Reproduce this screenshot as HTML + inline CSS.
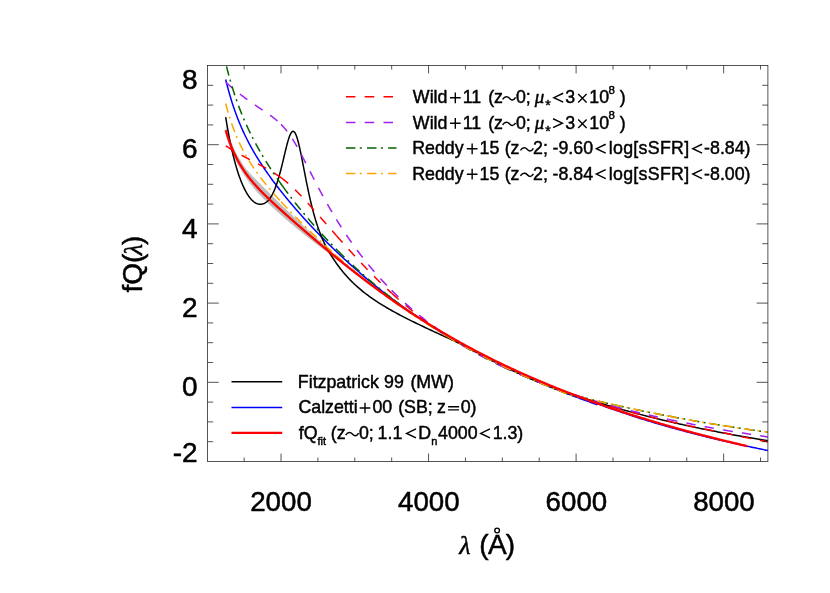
<!DOCTYPE html>
<html><head><meta charset="utf-8"><title>fQ</title>
<style>html,body{margin:0;padding:0;background:#fff;}svg{display:block;will-change:transform;}</style></head>
<body>
<svg width="830" height="593" viewBox="0 0 830 593">
<rect width="830" height="593" fill="#fff"/>
<defs><clipPath id="cp"><rect x="207.25" y="65.5" width="560.65" height="396.0"/></clipPath></defs>
<g clip-path="url(#cp)" fill="none" stroke-linejoin="round">
<path d="M225.69,125.94 L226.43,128.37 L227.17,130.69 L227.91,132.93 L228.64,135.07 L229.38,137.12 L230.12,139.10 L230.86,141.00 L231.59,142.83 L232.33,144.59 L233.07,146.29 L233.81,147.93 L234.54,149.51 L235.28,151.04 L236.02,152.52 L236.76,153.95 L237.50,155.34 L238.23,156.68 L238.97,157.98 L239.71,159.25 L240.45,160.48 L241.18,161.67 L241.92,162.84 L242.66,163.97 L243.40,165.08 L244.13,166.16 L244.87,167.21 L245.61,168.24 L246.35,169.20 L247.09,170.08 L247.82,170.95 L248.56,171.79 L249.30,172.62 L250.04,173.43 L250.77,174.22 L251.51,175.00 L252.25,175.76 L252.99,176.51 L253.72,177.25 L254.46,177.98 L255.20,178.69 L255.94,179.40 L256.68,180.20 L257.41,180.99 L258.15,181.77 L258.89,182.54 L259.63,183.31 L260.36,184.07 L261.10,184.82 L261.84,185.56 L262.58,186.30 L263.31,187.03 L264.05,187.76 L264.79,188.48 L265.53,189.20 L266.27,189.91 L267.00,190.61 L267.74,191.32 L268.48,192.01 L269.22,192.71 L269.95,193.40 L270.69,194.16 L271.43,194.93 L272.17,195.68 L272.91,196.44 L273.64,197.19 L274.38,197.94 L275.12,198.69 L275.86,199.43 L276.59,200.18 L277.33,200.92 L278.07,201.66 L278.81,202.39 L279.54,203.13 L280.28,203.86 L281.02,204.59 L281.76,205.29 L282.50,205.99 L283.23,206.68 L283.97,207.38 L284.71,208.07 L285.45,208.76 L286.18,209.45 L286.92,210.14 L287.66,210.83 L288.40,211.52 L289.13,212.20 L289.87,212.89 L290.61,213.60 L291.35,214.30 L292.09,215.01 L292.82,215.71 L293.56,216.42 L294.30,217.12 L295.04,217.82 L295.77,218.53 L296.51,219.23 L297.25,219.93 L297.99,220.63 L298.72,221.33 L299.46,222.02 L300.20,222.72 L300.94,223.42 L301.68,224.11 L302.41,224.81 L303.15,225.50 L303.89,226.20 L304.63,226.89 L305.36,227.58 L306.10,228.28 L306.84,228.97 L307.58,229.66 L308.31,230.35 L309.05,231.04 L309.79,231.73 L310.53,232.41 L311.27,233.11 L312.00,233.80 L312.74,234.49 L313.48,235.18 L314.22,235.87 L314.95,236.55 L315.69,237.24 L316.43,237.93 L317.17,238.61 L317.90,239.30 L318.64,239.98 L319.38,240.67 L320.12,241.35 L320.86,242.03 L321.59,242.71 L322.33,243.40 L323.07,244.07 L323.81,244.75 L324.54,245.43 L325.28,246.11 L326.02,246.79 L326.76,247.46 L327.49,248.14 L328.23,248.81 L328.97,249.48 L329.71,250.15 L330.45,250.79 L331.18,251.42 L331.92,252.05 L332.66,252.68 L333.40,253.31 L334.13,253.94 L334.87,254.57 L335.61,255.20 L336.35,255.82 L337.08,256.45 L337.82,257.07 L338.56,257.69 L339.30,258.32 L340.04,258.94 L340.77,259.56 L341.51,260.18 L342.25,260.80 L342.99,261.41 L343.72,262.03 L344.46,262.64 L345.20,263.26 L345.94,263.87 L346.67,264.48 L347.41,265.09 L348.15,265.70 L348.89,266.31 L349.63,266.92 L350.36,267.53 L351.10,268.13 L351.84,268.73 L352.58,269.34 L353.31,269.94 L354.05,270.54 L354.79,271.14 L355.53,271.72 L356.26,272.31 L357.00,272.89 L357.74,273.47 L358.48,274.05 L359.22,274.63 L359.95,275.20 L360.69,275.78 L361.43,276.35 L362.17,276.93 L362.90,277.50 L363.64,278.07 L364.38,278.64 L365.12,279.21 L365.85,279.78 L366.59,280.35 L367.33,280.91 L368.07,281.48 L368.81,282.04 L369.54,282.60 L370.28,283.16 L371.02,283.72 L371.76,284.28 L372.49,284.84 L373.23,285.39 L373.97,285.95 L374.71,286.50 L375.44,287.05 L376.18,287.60 L376.92,288.15 L377.66,288.70 L378.40,289.25 L379.13,289.79 L379.87,290.34 L380.61,290.88 L381.35,291.43 L382.08,291.97 L382.82,292.51 L383.56,293.05 L384.30,293.58 L385.04,294.12 L385.77,294.66 L386.51,295.19 L387.25,295.72 L387.99,296.25 L388.72,296.78 L389.46,297.31 L390.20,297.84 L390.94,298.37 L391.67,298.89 L392.41,299.42 L393.15,299.94 L393.89,300.46 L394.63,300.98 L395.36,301.50 L396.10,302.02 L396.84,302.54 L397.58,303.05 L398.31,303.57 L399.05,304.08 L399.79,304.59 L400.53,305.10 L401.26,305.61 L402.00,306.12 L402.74,306.63 L403.48,307.14 L404.22,307.64 L404.95,308.14 L405.69,308.65 L406.43,309.15 L407.17,309.65 L407.90,310.15 L408.64,310.64 L409.38,311.14 L410.12,311.63 L410.85,312.13 L411.59,312.62 L412.33,313.11 L413.07,313.60 L413.81,314.09 L414.54,314.58 L415.28,315.07 L416.02,315.55 L416.76,316.04 L417.49,316.52 L418.23,317.00 L418.97,317.48 L419.71,317.96 L420.44,318.44 L421.18,318.92 L421.92,319.39 L422.66,319.87 L423.40,320.34 L424.13,320.82 L424.87,321.29 L425.61,321.76 L426.35,322.23 L427.08,322.69 L427.82,323.16 L428.56,323.63 L429.30,324.09 L430.03,324.55 L430.77,325.02 L431.51,325.48 L432.25,325.94 L432.99,326.40 L433.72,326.85 L434.46,327.31 L435.20,327.76 L435.94,328.22 L436.67,328.67 L437.41,329.12 L438.15,329.57 L438.89,330.02 L439.62,330.47 L440.36,330.92 L441.10,331.37 L441.84,331.81 L442.58,332.26 L443.31,332.70 L444.05,333.14 L444.79,333.58 L445.53,334.02 L446.26,334.46 L447.00,334.90 L447.74,335.33 L448.48,335.77 L449.21,336.20 L449.95,336.64 L450.69,337.07 L451.43,337.50 L452.17,337.93 L452.90,338.36 L453.64,338.79 L454.38,339.21 L455.12,339.64 L455.85,340.06 L456.59,340.49 L457.33,340.91 L457.33,340.93 L456.59,340.52 L455.85,340.11 L455.12,339.71 L454.38,339.30 L453.64,338.89 L452.90,338.48 L452.17,338.06 L451.43,337.65 L450.69,337.24 L449.95,336.82 L449.21,336.41 L448.48,335.99 L447.74,335.57 L447.00,335.15 L446.26,334.73 L445.53,334.31 L444.79,333.89 L444.05,333.46 L443.31,333.04 L442.58,332.61 L441.84,332.19 L441.10,331.76 L440.36,331.33 L439.62,330.90 L438.89,330.47 L438.15,330.03 L437.41,329.60 L436.67,329.16 L435.94,328.73 L435.20,328.29 L434.46,327.85 L433.72,327.41 L432.99,326.97 L432.25,326.53 L431.51,326.09 L430.77,325.64 L430.03,325.20 L429.30,324.75 L428.56,324.31 L427.82,323.86 L427.08,323.41 L426.35,322.96 L425.61,322.50 L424.87,322.05 L424.13,321.60 L423.40,321.14 L422.66,320.68 L421.92,320.23 L421.18,319.77 L420.44,319.31 L419.71,318.84 L418.97,318.38 L418.23,317.92 L417.49,317.45 L416.76,316.99 L416.02,316.52 L415.28,316.05 L414.54,315.58 L413.81,315.11 L413.07,314.64 L412.33,314.16 L411.59,313.69 L410.85,313.21 L410.12,312.74 L409.38,312.26 L408.64,311.78 L407.90,311.30 L407.17,310.82 L406.43,310.33 L405.69,309.85 L404.95,309.37 L404.22,308.88 L403.48,308.39 L402.74,307.90 L402.00,307.41 L401.26,306.92 L400.53,306.43 L399.79,305.93 L399.05,305.44 L398.31,304.94 L397.58,304.44 L396.84,303.95 L396.10,303.45 L395.36,302.95 L394.63,302.44 L393.89,301.94 L393.15,301.43 L392.41,300.93 L391.67,300.42 L390.94,299.91 L390.20,299.40 L389.46,298.89 L388.72,298.38 L387.99,297.87 L387.25,297.35 L386.51,296.84 L385.77,296.32 L385.04,295.80 L384.30,295.28 L383.56,294.76 L382.82,294.24 L382.08,293.72 L381.35,293.19 L380.61,292.67 L379.87,292.14 L379.13,291.61 L378.40,291.08 L377.66,290.55 L376.92,290.02 L376.18,289.49 L375.44,288.95 L374.71,288.42 L373.97,287.88 L373.23,287.34 L372.49,286.80 L371.76,286.26 L371.02,285.72 L370.28,285.18 L369.54,284.64 L368.81,284.09 L368.07,283.55 L367.33,283.00 L366.59,282.45 L365.85,281.90 L365.12,281.35 L364.38,280.80 L363.64,280.24 L362.90,279.69 L362.17,279.13 L361.43,278.58 L360.69,278.02 L359.95,277.46 L359.22,276.90 L358.48,276.34 L357.74,275.78 L357.00,275.21 L356.26,274.65 L355.53,274.08 L354.79,273.52 L354.05,272.96 L353.31,272.41 L352.58,271.85 L351.84,271.30 L351.10,270.74 L350.36,270.18 L349.63,269.62 L348.89,269.06 L348.15,268.50 L347.41,267.93 L346.67,267.37 L345.94,266.81 L345.20,266.24 L344.46,265.67 L343.72,265.10 L342.99,264.53 L342.25,263.96 L341.51,263.39 L340.77,262.82 L340.04,262.25 L339.30,261.67 L338.56,261.10 L337.82,260.52 L337.08,259.94 L336.35,259.36 L335.61,258.78 L334.87,258.20 L334.13,257.62 L333.40,257.04 L332.66,256.46 L331.92,255.87 L331.18,255.29 L330.45,254.70 L329.71,254.11 L328.97,253.56 L328.23,253.01 L327.49,252.46 L326.76,251.91 L326.02,251.35 L325.28,250.80 L324.54,250.24 L323.81,249.69 L323.07,249.13 L322.33,248.57 L321.59,248.01 L320.86,247.46 L320.12,246.90 L319.38,246.33 L318.64,245.77 L317.90,245.21 L317.17,244.65 L316.43,244.08 L315.69,243.52 L314.95,242.95 L314.22,242.39 L313.48,241.82 L312.74,241.25 L312.00,240.68 L311.27,240.11 L310.53,239.54 L309.79,238.95 L309.05,238.36 L308.31,237.77 L307.58,237.18 L306.84,236.59 L306.10,236.00 L305.36,235.40 L304.63,234.81 L303.89,234.21 L303.15,233.62 L302.41,233.02 L301.68,232.43 L300.94,231.83 L300.20,231.23 L299.46,230.63 L298.72,230.03 L297.99,229.43 L297.25,228.83 L296.51,228.23 L295.77,227.63 L295.04,227.02 L294.30,226.42 L293.56,225.81 L292.82,225.21 L292.09,224.60 L291.35,224.00 L290.61,223.39 L289.87,222.78 L289.13,222.14 L288.40,221.50 L287.66,220.85 L286.92,220.21 L286.18,219.56 L285.45,218.91 L284.71,218.26 L283.97,217.61 L283.23,216.96 L282.50,216.31 L281.76,215.66 L281.02,215.00 L280.28,214.35 L279.54,213.69 L278.81,213.03 L278.07,212.37 L277.33,211.70 L276.59,211.04 L275.86,210.37 L275.12,209.70 L274.38,209.03 L273.64,208.35 L272.91,207.68 L272.17,207.00 L271.43,206.31 L270.69,205.63 L269.95,204.94 L269.22,204.25 L268.48,203.55 L267.74,202.85 L267.00,202.15 L266.27,201.44 L265.53,200.73 L264.79,200.01 L264.05,199.29 L263.31,198.57 L262.58,197.83 L261.84,197.09 L261.10,196.35 L260.36,195.60 L259.63,194.84 L258.89,194.07 L258.15,193.24 L257.41,192.40 L256.68,191.56 L255.94,190.70 L255.20,189.83 L254.46,188.96 L253.72,188.07 L252.99,187.17 L252.25,186.25 L251.51,185.33 L250.77,184.39 L250.04,183.43 L249.30,182.46 L248.56,181.47 L247.82,180.46 L247.09,179.44 L246.35,178.39 L245.61,177.34 L244.87,176.28 L244.13,175.20 L243.40,174.09 L242.66,172.95 L241.92,171.79 L241.18,170.60 L240.45,169.37 L239.71,168.11 L238.97,166.82 L238.23,165.48 L237.50,164.11 L236.76,162.70 L236.02,161.24 L235.28,159.73 L234.54,158.17 L233.81,156.56 L233.07,154.89 L232.33,153.17 L231.59,151.38 L230.86,149.52 L230.12,147.59 L229.38,145.58 L228.64,143.50 L227.91,141.33 L227.17,139.07 L226.43,136.71 L225.69,134.25Z" fill="#bebebe" stroke="none"/>
<path d="M225.69,79.47 L226.06,80.98 L226.43,82.47 L226.80,83.93 L227.17,85.37 L227.54,86.78 L227.91,88.17 L228.27,89.54 L228.64,90.89 L229.01,92.22 L229.38,93.52 L229.75,94.80 L230.12,96.07 L230.49,97.31 L230.86,98.54 L231.23,99.75 L231.59,100.94 L231.96,102.11 L232.33,103.27 L232.70,104.41 L233.07,105.53 L233.44,106.64 L233.81,107.74 L234.18,108.81 L234.54,109.88 L234.91,110.93 L235.28,111.96 L235.65,112.99 L236.02,114.00 L236.39,114.99 L236.76,115.98 L237.13,116.95 L237.50,117.91 L237.86,118.86 L238.23,119.79 L238.60,120.72 L238.97,121.64 L239.34,122.54 L239.71,123.44 L240.08,124.32 L240.45,125.20 L240.82,126.06 L241.18,126.92 L241.55,127.76 L241.92,128.60 L242.29,129.43 L242.66,130.25 L243.03,131.07 L243.40,131.87 L243.77,132.67 L244.13,133.46 L244.50,134.24 L244.87,135.01 L245.24,135.78 L245.61,136.54 L245.98,137.29 L246.35,138.04 L246.72,138.78 L247.09,139.51 L247.45,140.24 L247.82,140.96 L248.19,141.68 L248.56,142.39 L248.93,143.09 L249.30,143.79 L249.67,144.48 L250.04,145.17 L250.41,145.85 L250.77,146.53 L251.14,147.20 L251.51,147.87 L251.88,148.53 L252.25,149.19 L252.62,149.84 L252.99,150.49 L253.36,151.13 L253.72,151.77 L254.09,152.40 L254.46,153.04 L254.83,153.66 L255.20,154.29 L255.57,154.90 L255.94,155.52 L256.31,156.13 L256.68,156.74 L257.04,157.34 L257.41,157.94 L257.78,158.54 L258.15,159.13 L258.52,159.73 L258.89,160.31 L259.26,160.90 L259.63,161.48 L260.00,162.06 L260.36,162.63 L260.73,163.20 L261.10,163.77 L261.47,164.34 L261.84,164.90 L262.21,165.46 L262.58,166.02 L262.95,166.57 L263.31,167.13 L263.68,167.68 L264.05,168.22 L264.42,168.77 L264.79,169.31 L265.16,169.85 L265.53,170.39 L265.90,170.92 L266.27,171.46 L266.63,171.99 L267.00,172.52 L267.37,173.04 L267.74,173.57 L268.11,174.09 L268.48,174.61 L268.85,175.13 L269.22,175.65 L269.59,176.16 L269.95,176.67 L270.32,177.19 L270.69,177.69 L271.06,178.20 L271.43,178.71 L271.80,179.21 L272.17,179.71 L272.54,180.21 L272.91,180.71 L273.27,181.21 L273.64,181.70 L274.01,182.20 L274.38,182.69 L274.75,183.18 L275.12,183.67 L275.49,184.15 L275.86,184.64 L276.22,185.12 L276.59,185.61 L276.96,186.09 L277.33,186.57 L277.70,187.05 L278.07,187.52 L278.44,188.00 L278.81,188.47 L279.18,188.95 L279.54,189.42 L279.91,189.89 L280.28,190.36 L280.65,190.83 L281.02,191.29 L281.39,191.76 L281.76,192.22 L282.13,192.68 L282.50,193.15 L282.86,193.61 L283.23,194.07 L283.60,194.52 L283.97,194.98 L284.34,195.44 L284.71,195.89 L285.08,196.35 L285.45,196.80 L285.81,197.25 L286.18,197.70 L286.55,198.15 L286.92,198.60 L287.29,199.04 L287.66,199.49 L288.03,199.94 L288.40,200.38 L288.77,200.82 L289.13,201.27 L289.50,201.71 L289.87,202.15 L290.24,202.59 L290.61,203.02 L290.98,203.46 L291.35,203.90 L291.72,204.33 L292.09,204.77 L292.45,205.20 L292.82,205.63 L293.19,206.07 L293.56,206.50 L293.93,206.93 L294.30,207.35 L294.67,207.78 L295.04,208.21 L295.40,208.64 L295.77,209.06 L296.14,209.49 L296.51,209.91 L296.88,210.33 L297.25,210.76 L297.62,211.18 L297.99,211.60 L298.36,212.02 L298.72,212.44 L299.09,212.85 L299.46,213.27 L299.83,213.69 L300.20,214.10 L300.57,214.52 L300.94,214.93 L301.31,215.35 L301.68,215.76 L302.04,216.17 L302.41,216.58 L302.78,216.99 L303.15,217.40 L303.52,217.81 L303.89,218.22 L304.26,218.63 L304.63,219.03 L304.99,219.44 L305.36,219.84 L305.73,220.25 L306.10,220.65 L306.47,221.05 L306.84,221.46 L307.21,221.86 L307.58,222.26 L307.95,222.66 L308.31,223.06 L308.68,223.46 L309.05,223.85 L309.42,224.25 L309.79,224.65 L310.16,225.04 L310.53,225.44 L310.90,225.83 L311.27,226.23 L311.63,226.62 L312.00,227.01 L312.37,227.40 L312.74,227.79 L313.11,228.18 L313.48,228.57 L313.85,228.96 L314.22,229.35 L314.58,229.74 L314.95,230.13 L315.32,230.51 L315.69,230.90 L316.06,231.28 L316.43,231.67 L316.80,232.05 L317.17,232.44 L317.54,232.82 L317.90,233.20 L318.27,233.58 L318.64,233.96 L319.01,234.34 L319.38,234.72 L319.75,235.10 L320.12,235.48 L320.49,235.86 L320.86,236.23 L321.22,236.61 L321.59,236.98 L321.96,237.36 L322.33,237.73 L322.70,238.11 L323.07,238.48 L323.44,238.85 L323.81,239.23 L324.18,239.60 L324.54,239.97 L324.91,240.34 L325.28,240.71 L325.65,241.08 L326.02,241.44 L326.39,241.81 L326.76,242.18 L327.13,242.55 L327.49,242.91 L327.86,243.28 L328.23,243.64 L328.60,244.01 L328.97,244.37 L329.34,244.73 L329.71,245.10 L330.08,245.46 L330.45,245.82 L330.81,246.18 L331.18,246.54 L331.55,246.90 L331.92,247.26 L332.29,247.62 L332.66,247.97 L333.03,248.33 L333.40,248.69 L333.77,249.04 L334.13,249.40 L334.50,249.75 L334.87,250.11 L335.24,250.46 L335.61,250.82 L335.98,251.17 L336.35,251.52 L336.72,251.87 L337.08,252.22 L337.45,252.57 L337.82,252.92 L338.19,253.27 L338.56,253.62 L338.93,253.97 L339.30,254.32 L339.67,254.66 L340.04,255.01 L340.40,255.36 L340.77,255.70 L341.14,256.05 L341.51,256.39 L341.88,256.73 L342.25,257.08 L342.62,257.42 L342.99,257.76 L343.36,258.10 L343.72,258.45 L344.09,258.79 L344.46,259.13 L344.83,259.47 L345.20,259.80 L345.57,260.14 L345.94,260.48 L346.31,260.82 L346.67,261.16 L347.04,261.49 L347.41,261.83 L347.78,262.16 L348.15,262.50 L348.52,262.83 L348.89,263.16 L349.26,263.50 L349.63,263.83 L349.99,264.16 L350.36,264.49 L350.73,264.82 L351.10,265.16 L351.47,265.49 L351.84,265.81 L352.21,266.14 L352.58,266.47 L352.95,266.80 L353.31,267.13 L353.68,267.45 L354.05,267.78 L354.42,268.11 L354.79,268.43 L356.26,269.73 L357.74,271.02 L359.22,272.30 L360.69,273.57 L362.17,274.83 L363.64,276.09 L365.12,277.34 L366.59,278.58 L368.07,279.81 L369.54,281.03 L371.02,282.25 L372.49,283.46 L373.97,284.66 L375.44,285.86 L376.92,287.05 L378.40,288.22 L379.87,289.40 L381.35,290.56 L382.82,291.72 L384.30,292.87 L385.77,294.02 L387.25,295.15 L388.72,296.28 L390.20,297.40 L391.67,298.52 L393.15,299.63 L394.63,300.73 L396.10,301.83 L397.58,302.91 L399.05,304.00 L400.53,305.07 L402.00,306.14 L403.48,307.20 L404.95,308.26 L406.43,309.31 L407.90,310.35 L409.38,311.38 L410.85,312.41 L412.33,313.44 L413.81,314.45 L415.28,315.47 L416.76,316.47 L418.23,317.47 L419.71,318.46 L421.18,319.45 L422.66,320.43 L424.13,321.41 L425.61,322.37 L427.08,323.34 L428.56,324.29 L430.03,325.25 L431.51,326.19 L432.99,327.13 L434.46,328.07 L435.94,329.00 L437.41,329.92 L438.89,330.84 L440.36,331.75 L441.84,332.66 L443.31,333.56 L444.79,334.46 L446.26,335.35 L447.74,336.23 L449.21,337.12 L450.69,337.99 L452.17,338.86 L453.64,339.73 L455.12,340.59 L456.59,341.44 L458.07,342.29 L459.54,343.14 L461.02,343.98 L462.49,344.81 L463.97,345.64 L465.44,346.47 L466.92,347.29 L468.39,348.11 L469.87,348.92 L471.35,349.73 L472.82,350.53 L474.30,351.33 L475.77,352.12 L477.25,352.91 L478.72,353.69 L480.20,354.47 L481.67,355.25 L483.15,356.02 L484.62,356.79 L486.10,357.55 L487.57,358.31 L489.05,359.06 L490.53,359.81 L492.00,360.56 L493.48,361.30 L494.95,362.04 L496.43,362.77 L497.90,363.50 L499.38,364.22 L500.85,364.95 L502.33,365.66 L503.80,366.38 L505.28,367.09 L506.76,367.79 L508.23,368.49 L509.71,369.19 L511.18,369.88 L512.66,370.57 L514.13,371.26 L515.61,371.94 L517.08,372.62 L518.56,373.30 L520.03,373.97 L521.51,374.64 L522.98,375.30 L524.46,375.96 L525.94,376.62 L527.41,377.27 L528.89,377.93 L530.36,378.57 L531.84,379.22 L533.31,379.86 L534.79,380.49 L536.26,381.13 L537.74,381.76 L539.21,382.38 L540.69,383.01 L542.16,383.63 L543.64,384.24 L545.12,384.86 L546.59,385.47 L548.07,386.08 L549.54,386.68 L551.02,387.28 L552.49,387.88 L553.97,388.48 L555.44,389.07 L556.92,389.66 L558.39,390.24 L559.87,390.83 L561.34,391.41 L562.82,391.98 L564.30,392.56 L565.77,393.13 L567.25,393.70 L568.72,394.26 L570.20,394.83 L571.67,395.39 L573.15,395.94 L574.62,396.50 L576.10,397.05 L577.57,397.60 L579.05,398.14 L580.52,398.69 L582.00,399.23 L583.48,399.77 L584.95,400.30 L586.43,400.84 L587.90,401.37 L589.38,401.89 L590.85,402.42 L592.33,402.94 L593.80,403.46 L595.28,403.98 L596.75,404.49 L598.23,404.01 L599.70,404.56 L601.18,405.11 L602.66,405.65 L604.13,406.19 L605.61,406.73 L607.08,407.26 L608.56,407.79 L610.03,408.32 L611.51,408.84 L612.98,409.36 L614.46,409.88 L615.93,410.39 L617.41,410.90 L618.89,411.41 L620.36,411.91 L621.84,412.42 L623.31,412.91 L624.79,413.41 L626.26,413.90 L627.74,414.39 L629.21,414.88 L630.69,415.36 L632.16,415.84 L633.64,416.32 L635.11,416.79 L636.59,417.27 L638.07,417.74 L639.54,418.20 L641.02,418.67 L642.49,419.13 L643.97,419.59 L645.44,420.04 L646.92,420.50 L648.39,420.95 L649.87,421.40 L651.34,421.84 L652.82,422.28 L654.29,422.72 L655.77,423.16 L657.25,423.60 L658.72,424.03 L660.20,424.46 L661.67,424.89 L663.15,425.32 L664.62,425.74 L666.10,426.16 L667.57,426.58 L669.05,427.00 L670.52,427.41 L672.00,427.82 L673.47,428.23 L674.95,428.64 L676.43,429.05 L677.90,429.45 L679.38,429.85 L680.85,430.25 L682.33,430.65 L683.80,431.04 L685.28,431.43 L686.75,431.82 L688.23,432.21 L689.70,432.60 L691.18,432.98 L692.65,433.37 L694.13,433.75 L695.61,434.12 L697.08,434.50 L698.56,434.87 L700.03,435.25 L701.51,435.62 L702.98,435.99 L704.46,436.35 L705.93,436.72 L707.41,437.08 L708.88,437.44 L710.36,437.80 L711.84,438.16 L713.31,438.51 L714.79,438.87 L716.26,439.22 L717.74,439.57 L719.21,439.92 L720.69,440.26 L722.16,440.61 L723.64,440.95 L725.11,441.29 L726.59,441.63 L728.06,441.97 L729.54,442.31 L731.02,442.64 L732.49,442.97 L733.97,443.30 L735.44,443.63 L736.92,443.96 L738.39,444.29 L739.87,444.61 L741.34,444.94 L742.82,445.26 L744.29,445.58 L745.77,445.90 L747.24,446.21 L748.72,446.53 L750.20,446.84 L751.67,447.16 L753.15,447.47 L754.62,447.78 L756.10,448.09 L757.57,448.39 L759.05,448.70 L760.52,449.00 L762.00,449.30 L763.47,449.61 L764.95,449.91 L766.42,450.20 L767.90,450.50" stroke="#0000ff" stroke-width="1.5"/>
<path d="M225.69,117.15 L226.06,119.45 L226.43,121.69 L226.80,123.89 L227.17,126.05 L227.54,128.15 L227.91,130.22 L228.27,132.24 L228.64,134.22 L229.01,136.16 L229.38,138.05 L229.75,139.91 L230.12,141.73 L230.49,143.51 L230.86,145.25 L231.23,146.96 L231.59,148.63 L231.96,150.26 L232.33,151.86 L232.70,153.43 L233.07,154.97 L233.44,156.47 L233.81,157.94 L234.18,159.38 L234.54,160.78 L234.91,162.16 L235.28,163.51 L235.65,164.83 L236.02,166.12 L236.39,167.38 L236.76,168.62 L237.13,169.83 L237.50,171.01 L237.86,172.16 L238.23,173.29 L238.60,174.40 L238.97,175.48 L239.34,176.53 L239.71,177.57 L240.08,178.57 L240.45,179.56 L240.82,180.52 L241.18,181.46 L241.55,182.38 L241.92,183.27 L242.29,184.14 L242.66,185.00 L243.03,185.83 L243.40,186.64 L243.77,187.43 L244.13,188.19 L244.50,188.94 L244.87,189.67 L245.24,190.38 L245.61,191.07 L245.98,191.75 L246.35,192.40 L246.72,193.03 L247.09,193.65 L247.45,194.25 L247.82,194.82 L248.19,195.38 L248.56,195.93 L248.93,196.45 L249.30,196.96 L249.67,197.45 L250.04,197.92 L250.41,198.38 L250.77,198.82 L251.14,199.24 L251.51,199.64 L251.88,200.03 L252.25,200.40 L252.62,200.75 L252.99,201.08 L253.36,201.40 L253.72,201.70 L254.09,201.99 L254.46,202.26 L254.83,202.51 L255.20,202.74 L255.57,202.96 L255.94,203.16 L256.31,203.34 L256.68,203.50 L257.04,203.65 L257.41,203.78 L257.78,203.90 L258.15,203.99 L258.52,204.07 L258.89,204.13 L259.26,204.18 L259.63,204.22 L260.00,204.24 L260.36,204.25 L260.73,204.24 L261.10,204.22 L261.47,204.18 L261.84,204.13 L262.21,204.07 L262.58,203.98 L262.95,203.89 L263.31,203.77 L263.68,203.64 L264.05,203.49 L264.42,203.32 L264.79,203.13 L265.16,202.93 L265.53,202.70 L265.90,202.46 L266.27,202.19 L266.63,201.91 L267.00,201.60 L267.37,201.27 L267.74,200.92 L268.11,200.54 L268.48,200.15 L268.85,199.72 L269.22,199.28 L269.59,198.81 L269.95,198.31 L270.32,197.78 L270.69,197.23 L271.06,196.65 L271.43,196.05 L271.80,195.41 L272.17,194.75 L272.54,194.05 L272.91,193.33 L273.27,192.57 L273.64,191.79 L274.01,190.97 L274.38,190.12 L274.75,189.23 L275.12,188.31 L275.49,187.36 L275.86,186.38 L276.22,185.36 L276.59,184.31 L276.96,183.22 L277.33,182.10 L277.70,180.94 L278.07,179.76 L278.44,178.53 L278.81,177.28 L279.18,175.99 L279.54,174.67 L279.91,173.32 L280.28,171.95 L280.65,170.54 L281.02,169.11 L281.39,167.65 L281.76,166.17 L282.13,164.68 L282.50,163.16 L282.86,161.63 L283.23,160.09 L283.60,158.54 L283.97,156.98 L284.34,155.42 L284.71,153.87 L285.08,152.33 L285.45,150.80 L285.81,149.28 L286.18,147.79 L286.55,146.33 L286.92,144.90 L287.29,143.52 L287.66,142.17 L288.03,140.88 L288.40,139.65 L288.77,138.48 L289.13,137.38 L289.50,136.36 L289.87,135.42 L290.24,134.56 L290.61,133.80 L290.98,133.13 L291.35,132.56 L291.72,132.10 L292.09,131.74 L292.45,131.49 L292.82,131.36 L293.19,131.34 L293.56,131.43 L293.93,131.64 L294.30,131.96 L294.67,132.40 L295.04,132.95 L295.40,133.60 L295.77,134.37 L296.14,135.24 L296.51,136.20 L296.88,137.27 L297.25,138.42 L297.62,139.66 L297.99,140.99 L298.36,142.39 L298.72,143.86 L299.09,145.39 L299.46,146.99 L299.83,148.63 L300.20,150.33 L300.57,152.07 L300.94,153.85 L301.31,155.66 L301.68,157.50 L302.04,159.36 L302.41,161.24 L302.78,163.13 L303.15,165.04 L303.52,166.94 L303.89,168.86 L304.26,170.77 L304.63,172.67 L304.99,174.57 L305.36,176.46 L305.73,178.34 L306.10,180.20 L306.47,182.04 L306.84,183.87 L307.21,185.68 L307.58,187.47 L307.95,189.23 L308.31,190.98 L308.68,192.69 L309.05,194.39 L309.42,196.05 L309.79,197.70 L310.16,199.31 L310.53,200.90 L310.90,202.46 L311.27,204.00 L311.63,205.50 L312.00,206.99 L312.37,208.44 L312.74,209.87 L313.11,211.27 L313.48,212.64 L313.85,213.99 L314.22,215.31 L314.58,216.61 L314.95,217.88 L315.32,219.13 L315.69,220.36 L316.06,221.56 L316.43,222.73 L316.80,223.89 L317.17,225.02 L317.54,226.13 L317.90,227.21 L318.27,228.28 L318.64,229.33 L319.01,230.35 L319.38,231.36 L319.75,232.34 L320.12,233.31 L320.49,234.26 L320.86,235.19 L321.22,236.11 L321.59,237.00 L321.96,237.88 L322.33,238.75 L322.70,239.59 L323.07,240.42 L323.44,241.24 L323.81,242.04 L324.18,242.83 L324.54,243.60 L324.91,244.36 L325.28,245.11 L325.65,245.84 L326.02,246.56 L326.39,247.27 L326.76,247.97 L327.13,248.65 L327.49,249.32 L327.86,249.98 L328.23,250.63 L328.60,251.27 L328.97,251.90 L329.34,252.52 L329.71,253.13 L330.08,253.73 L330.45,254.32 L330.81,254.90 L331.18,255.48 L331.55,256.04 L331.92,256.59 L332.29,257.14 L332.66,257.68 L333.03,258.26 L333.40,258.83 L333.77,259.39 L334.13,259.95 L334.50,260.51 L334.87,261.06 L335.24,261.60 L335.61,262.14 L335.98,262.67 L336.35,263.20 L336.72,263.73 L337.08,264.25 L337.45,264.76 L337.82,265.27 L338.19,265.77 L338.56,266.27 L338.93,266.77 L339.30,267.26 L339.67,267.74 L340.04,268.23 L340.40,268.70 L340.77,269.18 L341.14,269.64 L341.51,270.11 L341.88,270.57 L342.25,271.02 L342.62,271.48 L342.99,271.92 L343.36,272.37 L343.72,272.81 L344.09,273.25 L344.46,273.68 L344.83,274.11 L345.20,274.53 L345.57,274.95 L345.94,275.37 L346.31,275.79 L346.67,276.20 L347.04,276.61 L347.41,277.01 L347.78,277.41 L348.15,277.81 L348.52,278.20 L348.89,278.60 L349.26,278.98 L349.63,279.37 L349.99,279.75 L350.36,280.13 L350.73,280.51 L351.10,280.88 L351.47,281.25 L351.84,281.62 L352.21,281.98 L352.58,282.34 L352.95,282.70 L353.31,283.06 L353.68,283.41 L354.05,283.77 L354.42,284.11 L354.79,284.46 L356.26,285.82 L357.74,287.14 L359.22,288.42 L360.69,289.67 L362.17,290.89 L363.64,292.08 L365.12,293.23 L366.59,294.36 L368.07,295.47 L369.54,296.55 L371.02,297.60 L372.49,298.64 L373.97,299.65 L375.44,300.64 L376.92,301.61 L378.40,302.57 L379.87,303.51 L381.35,304.43 L382.82,305.34 L384.30,306.23 L385.77,307.11 L387.25,307.98 L388.72,308.84 L390.20,309.68 L391.67,310.51 L393.15,311.33 L394.63,312.15 L396.10,312.95 L397.58,313.75 L399.05,314.53 L400.53,315.31 L402.00,316.08 L403.48,316.85 L404.95,317.60 L406.43,318.36 L407.90,319.10 L409.38,319.84 L410.85,320.58 L412.33,321.31 L413.81,322.03 L415.28,322.75 L416.76,323.47 L418.23,324.18 L419.71,324.89 L421.18,325.60 L422.66,326.30 L424.13,327.00 L425.61,327.70 L427.08,328.39 L428.56,329.08 L430.03,329.77 L431.51,330.46 L432.99,331.14 L434.46,331.82 L435.94,332.50 L437.41,333.18 L438.89,333.85 L440.36,334.53 L441.84,335.20 L443.31,335.88 L444.79,336.55 L446.26,337.23 L447.74,337.91 L449.21,338.58 L450.69,339.26 L452.17,339.95 L453.64,340.63 L455.12,341.32 L456.59,342.01 L458.07,342.70 L459.54,343.40 L461.02,344.10 L462.49,344.80 L463.97,345.51 L465.44,346.22 L466.92,346.94 L468.39,347.66 L469.87,348.38 L471.35,349.11 L472.82,349.85 L474.30,350.59 L475.77,351.33 L477.25,352.08 L478.72,352.84 L480.20,353.59 L481.67,354.36 L483.15,355.12 L484.62,355.89 L486.10,356.67 L487.57,357.44 L489.05,358.21 L490.53,358.99 L492.00,359.76 L493.48,360.53 L494.95,361.30 L496.43,362.07 L497.90,362.84 L499.38,363.61 L500.85,364.37 L502.33,365.13 L503.80,365.89 L505.28,366.64 L506.76,367.39 L508.23,368.13 L509.71,368.87 L511.18,369.60 L512.66,370.33 L514.13,371.05 L515.61,371.77 L517.08,372.48 L518.56,373.19 L520.03,373.88 L521.51,374.58 L522.98,375.26 L524.46,375.94 L525.94,376.61 L527.41,377.27 L528.89,377.93 L530.36,378.57 L531.84,379.22 L533.31,379.85 L534.79,380.47 L536.26,381.09 L537.74,381.70 L539.21,382.30 L540.69,382.89 L542.16,383.48 L543.64,384.06 L545.12,384.63 L546.59,385.20 L548.07,385.76 L549.54,386.31 L551.02,386.86 L552.49,387.40 L553.97,387.94 L555.44,388.47 L556.92,389.00 L558.39,389.53 L559.87,390.05 L561.34,390.56 L562.82,391.08 L564.30,391.58 L565.77,392.09 L567.25,392.59 L568.72,393.09 L570.20,393.58 L571.67,394.08 L573.15,394.57 L574.62,395.05 L576.10,395.54 L577.57,396.02 L579.05,396.50 L580.52,396.98 L582.00,397.46 L583.48,397.93 L584.95,398.40 L586.43,398.87 L587.90,399.34 L589.38,399.81 L590.85,400.27 L592.33,400.73 L593.80,401.19 L595.28,401.64 L596.75,402.10 L598.23,402.55 L599.70,402.99 L601.18,403.44 L602.66,403.89 L604.13,404.33 L605.61,404.77 L607.08,405.20 L608.56,405.64 L610.03,406.07 L611.51,406.50 L612.98,406.93 L614.46,407.35 L615.93,407.78 L617.41,408.20 L618.89,408.62 L620.36,409.03 L621.84,409.45 L623.31,409.86 L624.79,410.27 L626.26,410.68 L627.74,411.08 L629.21,411.49 L630.69,411.89 L632.16,412.29 L633.64,412.68 L635.11,413.08 L636.59,413.47 L638.07,413.86 L639.54,414.24 L641.02,414.63 L642.49,415.01 L643.97,415.39 L645.44,415.77 L646.92,416.15 L648.39,416.52 L649.87,416.90 L651.34,417.27 L652.82,417.63 L654.29,418.00 L655.77,418.36 L657.25,418.73 L658.72,419.09 L660.20,419.44 L661.67,419.80 L663.15,420.15 L664.62,420.50 L666.10,420.85 L667.57,421.20 L669.05,421.55 L670.52,421.89 L672.00,422.23 L673.47,422.57 L674.95,422.91 L676.43,423.24 L677.90,423.58 L679.38,423.91 L680.85,424.24 L682.33,424.57 L683.80,424.89 L685.28,425.22 L686.75,425.54 L688.23,425.86 L689.70,426.18 L691.18,426.50 L692.65,426.81 L694.13,427.12 L695.61,427.43 L697.08,427.74 L698.56,428.05 L700.03,428.36 L701.51,428.66 L702.98,428.96 L704.46,429.26 L705.93,429.56 L707.41,429.86 L708.88,430.15 L710.36,430.45 L711.84,430.74 L713.31,431.03 L714.79,431.32 L716.26,431.60 L717.74,431.89 L719.21,432.17 L720.69,432.45 L722.16,432.73 L723.64,433.01 L725.11,433.29 L726.59,433.56 L728.06,433.84 L729.54,434.11 L731.02,434.38 L732.49,434.65 L733.97,434.91 L735.44,435.18 L736.92,435.44 L738.39,435.71 L739.87,435.97 L741.34,436.23 L742.82,436.48 L744.29,436.74 L745.77,436.99 L747.24,437.25 L748.72,437.50 L750.20,437.75 L751.67,438.00 L753.15,438.25 L754.62,438.49 L756.10,438.74 L757.57,438.98 L759.05,439.22 L760.52,439.46 L762.00,439.70 L763.47,439.94 L764.95,440.18 L766.42,440.41 L767.90,440.65" stroke="#000" stroke-width="1.5"/>
<path d="M225.69,145.79 L226.06,146.02 L226.43,146.26 L226.80,146.50 L227.17,146.73 L227.54,146.97 L227.91,147.20 L228.27,147.44 L228.64,147.67 L229.01,147.90 L229.38,148.13 L229.75,148.36 L230.12,148.58 L230.49,148.81 L230.86,149.04 L231.23,149.26 L231.59,149.48 L231.96,149.71 L232.33,149.93 L232.70,150.15 L233.07,150.37 L233.44,150.59 L233.81,150.81 L234.18,151.03 L234.54,151.24 L234.91,151.46 L235.28,151.68 L235.65,151.89 L236.02,152.10 L236.39,152.32 L236.76,152.53 L237.13,152.74 L237.50,152.95 L237.86,153.16 L238.23,153.37 L238.60,153.58 L238.97,153.79 L239.34,153.99 L239.71,154.20 L240.08,154.41 L240.45,154.61 L240.82,154.82 L241.18,155.02 L241.55,155.22 L241.92,155.43 L242.29,155.63 L242.66,155.83 L243.03,156.03 L243.40,156.23 L243.77,156.43 L244.13,156.63 L244.50,156.83 L244.87,157.03 L245.24,157.22 L245.61,157.42 L245.98,157.62 L246.35,157.81 L246.72,158.01 L247.09,158.21 L247.45,158.40 L247.82,158.60 L248.19,158.79 L248.56,158.98 L248.93,159.18 L249.30,159.37 L249.67,159.56 L250.04,159.76 L250.41,159.95 L250.77,160.14 L251.14,160.33 L251.51,160.52 L251.88,160.72 L252.25,160.91 L252.62,161.10 L252.99,161.29 L253.36,161.48 L253.72,161.67 L254.09,161.86 L254.46,162.05 L254.83,162.24 L255.20,162.43 L255.57,162.62 L255.94,162.81 L256.31,163.01 L256.68,163.20 L257.04,163.39 L257.41,163.58 L257.78,163.77 L258.15,163.96 L258.52,164.15 L258.89,164.34 L259.26,164.54 L259.63,164.73 L260.00,164.92 L260.36,165.11 L260.73,165.31 L261.10,165.50 L261.47,165.70 L261.84,165.89 L262.21,166.09 L262.58,166.28 L262.95,166.48 L263.31,166.68 L263.68,166.88 L264.05,167.07 L264.42,167.27 L264.79,167.47 L265.16,167.67 L265.53,167.88 L265.90,168.08 L266.27,168.28 L266.63,168.49 L267.00,168.69 L267.37,168.90 L267.74,169.11 L268.11,169.31 L268.48,169.52 L268.85,169.74 L269.22,169.95 L269.59,170.16 L269.95,170.38 L270.32,170.59 L270.69,170.81 L271.06,171.03 L271.43,171.25 L271.80,171.47 L272.17,171.69 L272.54,171.92 L272.91,172.15 L273.27,172.38 L273.64,172.61 L274.01,172.84 L274.38,173.07 L274.75,173.31 L275.12,173.54 L275.49,173.78 L275.86,174.02 L276.22,174.27 L276.59,174.51 L276.96,174.76 L277.33,175.01 L277.70,175.26 L278.07,175.51 L278.44,175.77 L278.81,176.03 L279.18,176.29 L279.54,176.55 L279.91,176.81 L280.28,177.08 L280.65,177.35 L281.02,177.62" stroke="#ff0000" stroke-width="1.5" stroke-dasharray="9.3 9.2"/>
<path d="M281.02,177.62 L281.39,177.89 L281.76,178.17 L282.13,178.45 L282.50,178.73 L282.86,179.01 L283.23,179.30 L283.60,179.59 L283.97,179.88 L284.34,180.17 L284.71,180.46 L285.08,180.76 L285.45,181.06 L285.81,181.37 L286.18,181.67 L286.55,181.98 L286.92,182.29 L287.29,182.60 L287.66,182.92 L288.03,183.23 L288.40,183.55 L288.77,183.88 L289.13,184.20 L289.50,184.53 L289.87,184.86 L290.24,185.19 L290.61,185.52 L290.98,185.86 L291.35,186.20 L291.72,186.54 L292.09,186.88 L292.45,187.23 L292.82,187.58 L293.19,187.93 L293.56,188.28 L293.93,188.63 L294.30,188.99 L294.67,189.35 L295.04,189.71 L295.40,190.07 L295.77,190.43 L296.14,190.80 L296.51,191.16 L296.88,191.53 L297.25,191.91 L297.62,192.28 L297.99,192.65 L298.36,193.03 L298.72,193.41 L299.09,193.79 L299.46,194.17 L299.83,194.55 L300.20,194.93 L300.57,195.32 L300.94,195.71 L301.31,196.09 L301.68,196.48 L302.04,196.88 L302.41,197.27 L302.78,197.66 L303.15,198.06 L303.52,198.45 L303.89,198.85 L304.26,199.25 L304.63,199.65 L304.99,200.05 L305.36,200.45 L305.73,200.85 L306.10,201.25 L306.47,201.66 L306.84,202.06 L307.21,202.47 L307.58,202.87 L307.95,203.28 L308.31,203.69 L308.68,204.09 L309.05,204.50 L309.42,204.91 L309.79,205.32 L310.16,205.74 L310.53,206.15 L310.90,206.56 L311.27,206.97 L311.63,207.39 L312.00,207.80 L312.37,208.21 L312.74,208.63 L313.11,209.04 L313.48,209.46 L313.85,209.88 L314.22,210.29 L314.58,210.71 L314.95,211.13 L315.32,211.54 L315.69,211.96 L316.06,212.38 L316.43,212.80 L316.80,213.21 L317.17,213.63 L317.54,214.05 L317.90,214.47 L318.27,214.89 L318.64,215.31 L319.01,215.73 L319.38,216.15 L319.75,216.57 L320.12,216.99 L320.49,217.41 L320.86,217.83 L321.22,218.25 L321.59,218.67 L321.96,219.09 L322.33,219.51 L322.70,219.93 L323.07,220.35 L323.44,220.78 L323.81,221.20 L324.18,221.62 L324.54,222.04 L324.91,222.46 L325.28,222.88 L325.65,223.30 L326.02,223.72 L326.39,224.14 L326.76,224.56 L327.13,224.99 L327.49,225.41 L327.86,225.83 L328.23,226.25 L328.60,226.67 L328.97,227.09 L329.34,227.51 L329.71,227.93 L330.08,228.35 L330.45,228.77 L330.81,229.19 L331.18,229.61 L331.55,230.03 L331.92,230.45 L332.29,230.87 L332.66,231.29 L333.03,231.71 L333.40,232.13 L333.77,232.55 L334.13,232.97 L334.50,233.39 L334.87,233.81 L335.24,234.23 L335.61,234.65 L335.98,235.07 L336.35,235.48" stroke="#ff0000" stroke-width="1.5" stroke-dasharray="9.3 9.2"/>
<path d="M336.35,235.48 L336.72,235.90 L337.08,236.32 L337.45,236.74 L337.82,237.16 L338.19,237.57 L338.56,237.99 L338.93,238.41 L339.30,238.83 L339.67,239.24 L340.04,239.66 L340.40,240.08 L340.77,240.49 L341.14,240.91 L341.51,241.32 L341.88,241.74 L342.25,242.15 L342.62,242.57 L342.99,242.98 L343.36,243.40 L343.72,243.81 L344.09,244.22 L344.46,244.64 L344.83,245.05 L345.20,245.46 L345.57,245.88 L345.94,246.29 L346.31,246.70 L346.67,247.11 L347.04,247.52 L347.41,247.93 L347.78,248.34 L348.15,248.75 L348.52,249.16 L348.89,249.57 L349.26,249.98 L349.63,250.39 L349.99,250.80 L350.36,251.21 L350.73,251.61 L351.10,252.02 L351.47,252.43 L351.84,252.83 L352.21,253.24 L352.58,253.64 L352.95,254.05 L353.31,254.45 L353.68,254.86 L354.05,255.26 L354.42,255.66 L354.79,256.07 L355.16,256.47 L355.53,256.87 L355.90,257.27 L356.26,257.67 L356.63,258.07 L357.00,258.47 L357.37,258.87 L357.74,259.27 L358.11,259.67 L358.48,260.07 L358.85,260.46 L359.22,260.86 L359.58,261.25 L359.95,261.65 L360.32,262.04 L360.69,262.44 L361.06,262.83 L361.43,263.23 L361.80,263.62 L362.17,264.01 L362.54,264.40 L362.90,264.79 L363.27,265.18 L363.64,265.57 L364.01,265.96 L364.38,266.35 L364.75,266.74 L365.12,267.13 L365.49,267.51 L365.85,267.90 L366.22,268.28 L366.59,268.67 L366.96,269.05 L367.33,269.44 L367.70,269.82 L368.07,270.20 L368.44,270.58 L368.81,270.96 L369.17,271.34 L369.54,271.72 L369.91,272.10 L370.28,272.48 L370.65,272.86 L371.02,273.23 L371.39,273.61 L371.76,273.99 L372.13,274.36 L372.49,274.73 L372.86,275.11 L373.23,275.48 L373.60,275.85 L373.97,276.22 L374.34,276.59 L374.71,276.96 L375.08,277.33 L375.44,277.70 L375.81,278.07 L376.18,278.44 L376.55,278.80 L376.92,279.17 L377.29,279.53 L377.66,279.90 L378.03,280.26 L378.40,280.62 L378.76,280.99 L379.13,281.35 L379.50,281.71 L379.87,282.07 L380.24,282.43 L380.61,282.79 L380.98,283.14 L381.35,283.50 L381.72,283.86 L382.08,284.21 L382.45,284.57 L382.82,284.92 L383.19,285.27 L383.56,285.63 L383.93,285.98 L384.30,286.33 L384.67,286.68 L385.04,287.03 L385.40,287.38 L385.77,287.73 L386.14,288.07 L386.51,288.42 L386.88,288.77 L387.25,289.11 L387.62,289.45 L387.99,289.80 L388.35,290.14 L388.72,290.48 L389.09,290.82 L389.46,291.16 L389.83,291.50 L390.20,291.84 L390.57,292.18 L390.94,292.52 L391.31,292.86 L391.67,293.19" stroke="#ff0000" stroke-width="1.5" stroke-dasharray="9.3 9.2"/>
<path d="M391.67,293.19 L393.15,294.53 L394.63,295.85 L396.10,297.17 L397.58,298.47 L399.05,299.76 L400.53,301.03 L402.00,302.30 L403.48,303.55 L404.95,304.80 L406.43,306.03 L407.90,307.25 L409.38,308.46 L410.85,309.65 L412.33,310.84 L413.81,312.01 L415.28,313.18 L416.76,314.33 L418.23,315.48 L419.71,316.61 L421.18,317.73 L422.66,318.84 L424.13,319.94 L425.61,321.03 L427.08,322.12 L428.56,323.19 L430.03,324.25 L431.51,325.30 L432.99,326.34 L434.46,327.37 L435.94,328.40 L437.41,329.41 L438.89,330.42 L440.36,331.41 L441.84,332.40 L443.31,333.38 L444.79,334.35 L446.26,335.31 L447.00,335.79" stroke="#ff0000" stroke-width="1.5" stroke-dasharray="9.3 9.2"/>
<path d="M447.00,335.79 L448.48,336.73 L449.95,337.67 L451.43,338.61 L452.90,339.53 L454.38,340.45 L455.85,341.35 L457.33,342.25 L458.80,343.15 L460.28,344.03 L461.76,344.91 L463.23,345.78 L464.71,346.64 L466.18,347.49 L467.66,348.34 L469.13,349.18 L470.61,350.01 L472.08,350.84 L473.56,351.66 L475.03,352.47 L476.51,353.28 L477.98,354.08 L479.46,354.87 L480.94,355.66 L482.41,356.44 L483.89,357.21 L485.36,357.98 L486.84,358.74 L488.31,359.49 L489.79,360.24 L491.26,360.99 L492.74,361.72 L494.21,362.46 L495.69,363.18 L497.17,363.90 L498.64,364.62 L500.12,365.33 L501.59,366.03 L502.33,366.38" stroke="#ff0000" stroke-width="1.5" stroke-dasharray="9.3 9.2"/>
<path d="M502.33,366.38 L503.80,367.07 L505.28,367.76 L506.76,368.45 L508.23,369.13 L509.71,369.80 L511.18,370.47 L512.66,371.14 L514.13,371.80 L515.61,372.45 L517.08,373.10 L518.56,373.75 L520.03,374.39 L521.51,375.02 L522.98,375.65 L524.46,376.28 L525.94,376.90 L527.41,377.52 L528.89,378.13 L530.36,378.74 L531.84,379.34 L533.31,379.94 L534.79,380.54 L536.26,381.13 L537.74,381.72 L539.21,382.30 L540.69,382.88 L542.16,383.45 L543.64,384.02 L545.12,384.59 L546.59,385.15 L548.07,385.71 L549.54,386.27 L551.02,386.82 L552.49,387.37 L553.97,387.91 L555.44,388.45 L556.92,388.99 L557.66,389.26" stroke="#ff0000" stroke-width="1.5" stroke-dasharray="9.3 9.2"/>
<path d="M557.66,389.26 L559.13,389.79 L560.61,390.31 L562.08,390.84 L563.56,391.36 L565.03,391.88 L566.51,392.39 L567.98,392.90 L569.46,393.41 L570.93,393.91 L572.41,394.41 L573.89,394.91 L575.36,395.40 L576.84,395.90 L578.31,396.38 L579.79,396.87 L581.26,397.35 L582.74,397.83 L584.21,398.30 L585.69,398.78 L587.16,399.25 L588.64,399.71 L590.11,400.18 L591.59,400.64 L593.07,401.09 L594.54,401.55 L596.02,402.00 L597.49,402.45 L598.97,402.90 L600.44,403.34 L601.92,403.78 L603.39,404.22 L604.87,404.66 L606.34,405.09 L607.82,405.52 L609.30,405.95 L610.77,406.38 L612.25,406.80 L612.98,407.01" stroke="#ff0000" stroke-width="1.5" stroke-dasharray="9.3 9.2"/>
<path d="M612.98,407.01 L614.46,407.43 L615.93,407.84 L617.41,408.26 L618.89,408.67 L620.36,409.08 L621.84,409.49 L623.31,409.89 L624.79,410.29 L626.26,410.69 L627.74,411.09 L629.21,411.49 L630.69,411.88 L632.16,412.27 L633.64,412.66 L635.11,413.05 L636.59,413.43 L638.07,413.81 L639.54,414.19 L641.02,414.57 L642.49,414.95 L643.97,415.32 L645.44,415.69 L646.92,416.06 L648.39,416.43 L649.87,416.79 L651.34,417.16 L652.82,417.52 L654.29,417.88 L655.77,418.24 L657.25,418.59 L658.72,418.94 L660.20,419.30 L661.67,419.65 L663.15,419.99 L664.62,420.34 L666.10,420.68 L667.57,421.03 L668.31,421.20" stroke="#ff0000" stroke-width="1.5" stroke-dasharray="9.3 9.2"/>
<path d="M668.31,421.20 L669.79,421.54 L671.26,421.87 L672.74,422.21 L674.21,422.54 L675.69,422.88 L677.16,423.21 L678.64,423.53 L680.11,423.86 L681.59,424.19 L683.06,424.51 L684.54,424.83 L686.02,425.15 L687.49,425.47 L688.97,425.79 L690.44,426.11 L691.92,426.42 L693.39,426.73 L694.87,427.04 L696.34,427.35 L697.82,427.66 L699.29,427.96 L700.77,428.27 L702.24,428.57 L703.72,428.87 L705.20,429.17 L706.67,429.47 L708.15,429.77 L709.62,430.06 L711.10,430.36 L712.57,430.65 L714.05,430.94 L715.52,431.23 L717.00,431.52 L718.47,431.81 L719.95,432.09 L721.43,432.38 L722.90,432.66 L723.64,432.80" stroke="#ff0000" stroke-width="1.5" stroke-dasharray="9.3 9.2"/>
<path d="M723.64,432.80 L725.11,433.13 L726.59,433.45 L728.06,433.77 L729.54,434.09 L731.02,434.41 L732.49,434.73 L733.97,435.05 L735.44,435.36 L736.92,435.68 L738.39,435.99 L739.87,436.30 L741.34,436.61 L742.82,436.91 L744.29,437.22 L745.77,437.52 L747.24,437.82 L748.72,438.12 L750.20,438.42 L751.67,438.72 L753.15,439.02 L754.62,439.31 L756.10,439.61 L757.57,439.90 L759.05,440.19 L760.52,440.48 L762.00,440.76 L763.47,441.05 L764.95,441.33 L766.42,441.62 L767.90,441.90" stroke="#ff0000" stroke-width="1.5" stroke-dasharray="9.3 9.2"/>
<path d="M225.69,82.17 L226.06,82.50 L226.43,82.83 L226.80,83.17 L227.17,83.50 L227.54,83.83 L227.91,84.15 L228.27,84.48 L228.64,84.81 L229.01,85.13 L229.38,85.45 L229.75,85.77 L230.12,86.09 L230.49,86.41 L230.86,86.72 L231.23,87.04 L231.59,87.35 L231.96,87.66 L232.33,87.97 L232.70,88.28 L233.07,88.59 L233.44,88.90 L233.81,89.20 L234.18,89.50 L234.54,89.81 L234.91,90.11 L235.28,90.41 L235.65,90.71 L236.02,91.00 L236.39,91.30 L236.76,91.60 L237.13,91.89 L237.50,92.18 L237.86,92.47 L238.23,92.76 L238.60,93.05 L238.97,93.34 L239.34,93.63 L239.71,93.91 L240.08,94.20 L240.45,94.48 L240.82,94.76 L241.18,95.04 L241.55,95.32 L241.92,95.60 L242.29,95.88 L242.66,96.16 L243.03,96.43 L243.40,96.71 L243.77,96.98 L244.13,97.25 L244.50,97.53 L244.87,97.80 L245.24,98.07 L245.61,98.34 L245.98,98.61 L246.35,98.87 L246.72,99.14 L247.09,99.40 L247.45,99.67 L247.82,99.93 L248.19,100.20 L248.56,100.46 L248.93,100.72 L249.30,100.98 L249.67,101.24 L250.04,101.50 L250.41,101.76 L250.77,102.01 L251.14,102.27 L251.51,102.53 L251.88,102.78 L252.25,103.04 L252.62,103.29 L252.99,103.54 L253.36,103.80 L253.72,104.05 L254.09,104.30 L254.46,104.55 L254.83,104.80 L255.20,105.05 L255.57,105.30 L255.94,105.55 L256.31,105.80 L256.68,106.05 L257.04,106.30 L257.41,106.55 L257.78,106.80 L258.15,107.04 L258.52,107.29 L258.89,107.54 L259.26,107.78 L259.63,108.03 L260.00,108.28 L260.36,108.52 L260.73,108.77 L261.10,109.02 L261.47,109.27 L261.84,109.51 L262.21,109.76 L262.58,110.01 L262.95,110.25 L263.31,110.50 L263.68,110.75 L264.05,111.00 L264.42,111.25 L264.79,111.50 L265.16,111.75 L265.53,112.00 L265.90,112.25 L266.27,112.50 L266.63,112.76 L267.00,113.01 L267.37,113.27 L267.74,113.52 L268.11,113.78 L268.48,114.04 L268.85,114.30 L269.22,114.56 L269.59,114.83 L269.95,115.09 L270.32,115.36 L270.69,115.63 L271.06,115.90 L271.43,116.17 L271.80,116.44 L272.17,116.72 L272.54,117.00 L272.91,117.28 L273.27,117.57 L273.64,117.85 L274.01,118.14 L274.38,118.44 L274.75,118.73 L275.12,119.03 L275.49,119.33 L275.86,119.64 L276.22,119.95 L276.59,120.26 L276.96,120.58 L277.33,120.90 L277.70,121.22 L278.07,121.55 L278.44,121.89 L278.81,122.23 L279.18,122.57 L279.54,122.92 L279.91,123.27 L280.28,123.63 L280.65,123.99 L281.02,124.36" stroke="#a020f0" stroke-width="1.5" stroke-dasharray="9.3 9.2"/>
<path d="M281.02,124.36 L281.39,124.74 L281.76,125.12 L282.13,125.50 L282.50,125.89 L282.86,126.29 L283.23,126.70 L283.60,127.11 L283.97,127.52 L284.34,127.95 L284.71,128.38 L285.08,128.81 L285.45,129.26 L285.81,129.71 L286.18,130.16 L286.55,130.63 L286.92,131.10 L287.29,131.58 L287.66,132.06 L288.03,132.56 L288.40,133.05 L288.77,133.56 L289.13,134.08 L289.50,134.60 L289.87,135.12 L290.24,135.66 L290.61,136.20 L290.98,136.75 L291.35,137.31 L291.72,137.87 L292.09,138.44 L292.45,139.02 L292.82,139.60 L293.19,140.19 L293.56,140.78 L293.93,141.39 L294.30,141.99 L294.67,142.61 L295.04,143.23 L295.40,143.85 L295.77,144.48 L296.14,145.12 L296.51,145.76 L296.88,146.41 L297.25,147.06 L297.62,147.72 L297.99,148.38 L298.36,149.05 L298.72,149.72 L299.09,150.39 L299.46,151.07 L299.83,151.75 L300.20,152.44 L300.57,153.13 L300.94,153.82 L301.31,154.51 L301.68,155.21 L302.04,155.91 L302.41,156.62 L302.78,157.32 L303.15,158.03 L303.52,158.74 L303.89,159.45 L304.26,160.16 L304.63,160.88 L304.99,161.60 L305.36,162.31 L305.73,163.03 L306.10,163.75 L306.47,164.47 L306.84,165.20 L307.21,165.92 L307.58,166.64 L307.95,167.36 L308.31,168.09 L308.68,168.81 L309.05,169.53 L309.42,170.26 L309.79,170.98 L310.16,171.70 L310.53,172.43 L310.90,173.15 L311.27,173.87 L311.63,174.59 L312.00,175.31 L312.37,176.03 L312.74,176.75 L313.11,177.47 L313.48,178.19 L313.85,178.91 L314.22,179.62 L314.58,180.33 L314.95,181.05 L315.32,181.76 L315.69,182.47 L316.06,183.18 L316.43,183.89 L316.80,184.59 L317.17,185.30 L317.54,186.00 L317.90,186.70 L318.27,187.40 L318.64,188.10 L319.01,188.79 L319.38,189.49 L319.75,190.18 L320.12,190.87 L320.49,191.56 L320.86,192.25 L321.22,192.94 L321.59,193.62 L321.96,194.30 L322.33,194.98 L322.70,195.66 L323.07,196.34 L323.44,197.01 L323.81,197.68 L324.18,198.36 L324.54,199.02 L324.91,199.69 L325.28,200.36 L325.65,201.02 L326.02,201.68 L326.39,202.34 L326.76,202.99 L327.13,203.65 L327.49,204.30 L327.86,204.95 L328.23,205.60 L328.60,206.24 L328.97,206.89 L329.34,207.53 L329.71,208.17 L330.08,208.81 L330.45,209.44 L330.81,210.08 L331.18,210.71 L331.55,211.34 L331.92,211.97 L332.29,212.59 L332.66,213.22 L333.03,213.84 L333.40,214.46 L333.77,215.07 L334.13,215.69 L334.50,216.30 L334.87,216.91 L335.24,217.52 L335.61,218.13 L335.98,218.73 L336.35,219.34" stroke="#a020f0" stroke-width="1.5" stroke-dasharray="9.3 9.2"/>
<path d="M336.35,219.34 L336.72,219.94 L337.08,220.54 L337.45,221.13 L337.82,221.73 L338.19,222.32 L338.56,222.91 L338.93,223.50 L339.30,224.09 L339.67,224.67 L340.04,225.25 L340.40,225.83 L340.77,226.41 L341.14,226.99 L341.51,227.56 L341.88,228.14 L342.25,228.71 L342.62,229.28 L342.99,229.84 L343.36,230.41 L343.72,230.97 L344.09,231.53 L344.46,232.09 L344.83,232.65 L345.20,233.21 L345.57,233.76 L345.94,234.31 L346.31,234.86 L346.67,235.41 L347.04,235.96 L347.41,236.50 L347.78,237.04 L348.15,237.58 L348.52,238.12 L348.89,238.66 L349.26,239.19 L349.63,239.73 L349.99,240.26 L350.36,240.79 L350.73,241.32 L351.10,241.84 L351.47,242.37 L351.84,242.89 L352.21,243.41 L352.58,243.93 L352.95,244.45 L353.31,244.96 L353.68,245.48 L354.05,245.99 L354.42,246.50 L354.79,247.01 L355.16,247.51 L355.53,248.02 L355.90,248.52 L356.26,249.02 L356.63,249.52 L357.00,250.02 L357.37,250.52 L357.74,251.02 L358.11,251.51 L358.48,252.00 L358.85,252.49 L359.22,252.98 L359.58,253.47 L359.95,253.95 L360.32,254.44 L360.69,254.92 L361.06,255.40 L361.43,255.88 L361.80,256.36 L362.17,256.83 L362.54,257.31 L362.90,257.78 L363.27,258.25 L363.64,258.72 L364.01,259.19 L364.38,259.66 L364.75,260.12 L365.12,260.58 L365.49,261.05 L365.85,261.51 L366.22,261.97 L366.59,262.42 L366.96,262.88 L367.33,263.34 L367.70,263.79 L368.07,264.24 L368.44,264.69 L368.81,265.14 L369.17,265.59 L369.54,266.03 L369.91,266.48 L370.28,266.92 L370.65,267.36 L371.02,267.80 L371.39,268.24 L371.76,268.68 L372.13,269.11 L372.49,269.55 L372.86,269.98 L373.23,270.41 L373.60,270.85 L373.97,271.27 L374.34,271.70 L374.71,272.13 L375.08,272.55 L375.44,272.98 L375.81,273.40 L376.18,273.82 L376.55,274.24 L376.92,274.66 L377.29,275.08 L377.66,275.49 L378.03,275.91 L378.40,276.32 L378.76,276.73 L379.13,277.14 L379.50,277.55 L379.87,277.96 L380.24,278.37 L380.61,278.77 L380.98,279.18 L381.35,279.58 L381.72,279.98 L382.08,280.38 L382.45,280.78 L382.82,281.18 L383.19,281.58 L383.56,281.97 L383.93,282.37 L384.30,282.76 L384.67,283.15 L385.04,283.54 L385.40,283.93 L385.77,284.32 L386.14,284.71 L386.51,285.10 L386.88,285.48 L387.25,285.87 L387.62,286.25 L387.99,286.63 L388.35,287.01 L388.72,287.39 L389.09,287.77 L389.46,288.14 L389.83,288.52 L390.20,288.89 L390.57,289.27 L390.94,289.64 L391.31,290.01 L391.67,290.38" stroke="#a020f0" stroke-width="1.5" stroke-dasharray="9.3 9.2"/>
<path d="M391.67,290.38 L393.15,291.85 L394.63,293.30 L396.10,294.74 L397.58,296.16 L399.05,297.56 L400.53,298.95 L402.00,300.32 L403.48,301.67 L404.95,303.01 L406.43,304.33 L407.90,305.64 L409.38,306.93 L410.85,308.21 L412.33,309.48 L413.81,310.73 L415.28,311.97 L416.76,313.19 L418.23,314.40 L419.71,315.60 L421.18,316.78 L422.66,317.95 L424.13,319.11 L425.61,320.26 L427.08,321.39 L428.56,322.51 L430.03,323.62 L431.51,324.72 L432.99,325.81 L434.46,326.89 L435.94,327.95 L437.41,329.01 L438.89,330.05 L440.36,331.08 L441.84,332.10 L443.31,333.12 L444.79,334.12 L446.26,335.11 L447.00,335.60" stroke="#a020f0" stroke-width="1.5" stroke-dasharray="9.3 9.2"/>
<path d="M447.00,335.60 L448.48,336.58 L449.95,337.55 L451.43,338.50 L452.90,339.45 L454.38,340.39 L455.85,341.32 L457.33,342.24 L458.80,343.16 L460.28,344.06 L461.76,344.95 L463.23,345.84 L464.71,346.72 L466.18,347.59 L467.66,348.45 L469.13,349.30 L470.61,350.15 L472.08,350.99 L473.56,351.82 L475.03,352.64 L476.51,353.45 L477.98,354.26 L479.46,355.06 L480.94,355.85 L482.41,356.64 L483.89,357.42 L485.36,358.19 L486.84,358.96 L488.31,359.71 L489.79,360.46 L491.26,361.21 L492.74,361.95 L494.21,362.68 L495.69,363.41 L497.17,364.13 L498.64,364.84 L500.12,365.55 L501.59,366.25 L502.33,366.60" stroke="#a020f0" stroke-width="1.5" stroke-dasharray="9.3 9.2"/>
<path d="M502.33,366.60 L503.80,367.29 L505.28,367.97 L506.76,368.65 L508.23,369.33 L509.71,370.00 L511.18,370.66 L512.66,371.32 L514.13,371.97 L515.61,372.62 L517.08,373.26 L518.56,373.90 L520.03,374.53 L521.51,375.16 L522.98,375.78 L524.46,376.40 L525.94,377.01 L527.41,377.61 L528.89,378.22 L530.36,378.81 L531.84,379.41 L533.31,379.99 L534.79,380.58 L536.26,381.16 L537.74,381.73 L539.21,382.30 L540.69,382.87 L542.16,383.43 L543.64,383.98 L545.12,384.54 L546.59,385.08 L548.07,385.63 L549.54,386.17 L551.02,386.70 L552.49,387.24 L553.97,387.76 L555.44,388.29 L556.92,388.81 L557.66,389.07" stroke="#a020f0" stroke-width="1.5" stroke-dasharray="9.3 9.2"/>
<path d="M557.66,389.07 L559.13,389.58 L560.61,390.09 L562.08,390.60 L563.56,391.10 L565.03,391.60 L566.51,392.10 L567.98,392.59 L569.46,393.08 L570.93,393.56 L572.41,394.04 L573.89,394.52 L575.36,395.00 L576.84,395.47 L578.31,395.94 L579.79,396.40 L581.26,396.86 L582.74,397.32 L584.21,397.78 L585.69,398.23 L587.16,398.68 L588.64,399.12 L590.11,399.57 L591.59,400.01 L593.07,400.44 L594.54,400.88 L596.02,401.31 L597.49,401.74 L598.97,402.16 L600.44,402.58 L601.92,403.00 L603.39,403.42 L604.87,403.83 L606.34,404.24 L607.82,404.65 L609.30,405.06 L610.77,405.46 L612.25,405.86 L612.98,406.06" stroke="#a020f0" stroke-width="1.5" stroke-dasharray="9.3 9.2"/>
<path d="M612.98,406.06 L614.46,406.45 L615.93,406.85 L617.41,407.24 L618.89,407.63 L620.36,408.01 L621.84,408.40 L623.31,408.78 L624.79,409.16 L626.26,409.53 L627.74,409.91 L629.21,410.28 L630.69,410.65 L632.16,411.02 L633.64,411.38 L635.11,411.74 L636.59,412.10 L638.07,412.46 L639.54,412.82 L641.02,413.17 L642.49,413.52 L643.97,413.87 L645.44,414.22 L646.92,414.56 L648.39,414.90 L649.87,415.24 L651.34,415.58 L652.82,415.92 L654.29,416.25 L655.77,416.59 L657.25,416.92 L658.72,417.24 L660.20,417.57 L661.67,417.90 L663.15,418.22 L664.62,418.54 L666.10,418.86 L667.57,419.17 L668.31,419.33" stroke="#a020f0" stroke-width="1.5" stroke-dasharray="9.3 9.2"/>
<path d="M668.31,419.33 L669.79,419.65 L671.26,419.96 L672.74,420.27 L674.21,420.58 L675.69,420.88 L677.16,421.19 L678.64,421.49 L680.11,421.79 L681.59,422.09 L683.06,422.39 L684.54,422.69 L686.02,422.98 L687.49,423.28 L688.97,423.57 L690.44,423.86 L691.92,424.15 L693.39,424.43 L694.87,424.72 L696.34,425.00 L697.82,425.28 L699.29,425.56 L700.77,425.84 L702.24,426.12 L703.72,426.39 L705.20,426.67 L706.67,426.94 L708.15,427.21 L709.62,427.48 L711.10,427.75 L712.57,428.02 L714.05,428.28 L715.52,428.54 L717.00,428.81 L718.47,429.07 L719.95,429.33 L721.43,429.59 L722.90,429.84 L723.64,429.97" stroke="#a020f0" stroke-width="1.5" stroke-dasharray="9.3 9.2"/>
<path d="M723.64,429.97 L725.11,430.22 L726.59,430.47 L728.06,430.71 L729.54,430.96 L731.02,431.20 L732.49,431.44 L733.97,431.68 L735.44,431.92 L736.92,432.16 L738.39,432.40 L739.87,432.63 L741.34,432.87 L742.82,433.10 L744.29,433.34 L745.77,433.57 L747.24,433.80 L748.72,434.03 L750.20,434.25 L751.67,434.48 L753.15,434.71 L754.62,434.93 L756.10,435.15 L757.57,435.38 L759.05,435.60 L760.52,435.82 L762.00,436.04 L763.47,436.25 L764.95,436.47 L766.42,436.69 L767.90,436.90" stroke="#a020f0" stroke-width="1.5" stroke-dasharray="9.3 9.2"/>
<path d="M225.69,62.88 L226.06,64.42 L226.43,65.93 L226.80,67.43 L227.17,68.90 L227.54,70.35 L227.91,71.78 L228.27,73.19 L228.64,74.58 L229.01,75.94 L229.38,77.29 L229.75,78.62 L230.12,79.93 L230.49,81.23 L230.86,82.50 L231.23,83.76 L231.59,85.01 L231.96,86.23 L232.33,87.44 L232.70,88.64 L233.07,89.82 L233.44,90.99 L233.81,92.14 L234.18,93.28 L234.54,94.40 L234.91,95.51 L235.28,96.61 L235.65,97.69 L236.02,98.77 L236.39,99.83 L236.76,100.87 L237.13,101.91 L237.50,102.94 L237.86,103.95 L238.23,104.96 L238.60,105.95 L238.97,106.93 L239.34,107.91 L239.71,108.87 L240.08,109.82 L240.45,110.77 L240.82,111.70 L241.18,112.63 L241.55,113.54 L241.92,114.45 L242.29,115.35 L242.66,116.25 L243.03,117.13 L243.40,118.01 L243.77,118.87 L244.13,119.73 L244.50,120.59 L244.87,121.43 L245.24,122.27 L245.61,123.10 L245.98,123.93 L246.35,124.75 L246.72,125.56 L247.09,126.37 L247.45,127.16 L247.82,127.96 L248.19,128.75 L248.56,129.53 L248.93,130.30 L249.30,131.07 L249.67,131.84 L250.04,132.60 L250.41,133.35 L250.77,134.10 L251.14,134.84 L251.51,135.58 L251.88,136.31 L252.25,137.04 L252.62,137.76 L252.99,138.48 L253.36,139.20 L253.72,139.91 L254.09,140.61 L254.46,141.32 L254.83,142.01 L255.20,142.71 L255.57,143.39 L255.94,144.08 L256.31,144.76 L256.68,145.44 L257.04,146.11 L257.41,146.78 L257.78,147.44 L258.15,148.11 L258.52,148.77 L258.89,149.42 L259.26,150.07 L259.63,150.72 L260.00,151.37 L260.36,152.01 L260.73,152.65 L261.10,153.28 L261.47,153.91 L261.84,154.54 L262.21,155.17 L262.58,155.79 L262.95,156.41 L263.31,157.03 L263.68,157.64 L264.05,158.26 L264.42,158.87 L264.79,159.47 L265.16,160.08 L265.53,160.68 L265.90,161.28 L266.27,161.87 L266.63,162.47 L267.00,163.06 L267.37,163.65 L267.74,164.23 L268.11,164.82 L268.48,165.40 L268.85,165.98 L269.22,166.55 L269.59,167.13 L269.95,167.70 L270.32,168.27 L270.69,168.84 L271.06,169.41 L271.43,169.97 L271.80,170.53 L272.17,171.09 L272.54,171.65 L272.91,172.21 L273.27,172.76 L273.64,173.31 L274.01,173.86 L274.38,174.41 L274.75,174.96 L275.12,175.50 L275.49,176.04 L275.86,176.58 L276.22,177.12 L276.59,177.66 L276.96,178.20 L277.33,178.73 L277.70,179.26 L278.07,179.79 L278.44,180.32 L278.81,180.85 L279.18,181.38 L279.54,181.90 L279.91,182.42 L280.28,182.94 L280.65,183.46 L281.02,183.98 L281.39,184.50 L281.76,185.01 L282.13,185.52 L282.50,186.04" stroke="#006400" stroke-width="1.5" stroke-dasharray="9.4 4.3 2 4.9" stroke-dashoffset="-3.6"/>
<path d="M282.50,186.04 L282.86,186.55 L283.23,187.05 L283.60,187.56 L283.97,188.07 L284.34,188.57 L284.71,189.08 L285.08,189.58 L285.45,190.08 L285.81,190.58 L286.18,191.07 L286.55,191.57 L286.92,192.07 L287.29,192.56 L287.66,193.05 L288.03,193.54 L288.40,194.03 L288.77,194.52 L289.13,195.01 L289.50,195.49 L289.87,195.98 L290.24,196.46 L290.61,196.95 L290.98,197.43 L291.35,197.91 L291.72,198.38 L292.09,198.86 L292.45,199.34 L292.82,199.81 L293.19,200.29 L293.56,200.76 L293.93,201.23 L294.30,201.70 L294.67,202.17 L295.04,202.64 L295.40,203.11 L295.77,203.57 L296.14,204.04 L296.51,204.50 L296.88,204.97 L297.25,205.43 L297.62,205.89 L297.99,206.35 L298.36,206.81 L298.72,207.26 L299.09,207.72 L299.46,208.18 L299.83,208.63 L300.20,209.08 L300.57,209.54 L300.94,209.99 L301.31,210.44 L301.68,210.89 L302.04,211.34 L302.41,211.78 L302.78,212.23 L303.15,212.67 L303.52,213.12 L303.89,213.56 L304.26,214.01 L304.63,214.45 L304.99,214.89 L305.36,215.33 L305.73,215.77 L306.10,216.20 L306.47,216.64 L306.84,217.08 L307.21,217.51 L307.58,217.95 L307.95,218.38 L308.31,218.81 L308.68,219.24 L309.05,219.67 L309.42,220.10 L309.79,220.53 L310.16,220.96 L310.53,221.38 L310.90,221.81 L311.27,222.24 L311.63,222.66 L312.00,223.08 L312.37,223.51 L312.74,223.93 L313.11,224.35 L313.48,224.77 L313.85,225.19 L314.22,225.61 L314.58,226.02 L314.95,226.44 L315.32,226.85 L315.69,227.27 L316.06,227.68 L316.43,228.10 L316.80,228.51 L317.17,228.92 L317.54,229.33 L317.90,229.74 L318.27,230.15 L318.64,230.56 L319.01,230.97 L319.38,231.37 L319.75,231.78 L320.12,232.18 L320.49,232.59 L320.86,232.99 L321.22,233.39 L321.59,233.79 L321.96,234.20 L322.33,234.60 L322.70,235.00 L323.07,235.39 L323.44,235.79 L323.81,236.19 L324.18,236.59 L324.54,236.98 L324.91,237.38 L325.28,237.77 L325.65,238.16 L326.02,238.56 L326.39,238.95 L326.76,239.34 L327.13,239.73 L327.49,240.12 L327.86,240.51 L328.23,240.90 L328.60,241.28 L328.97,241.67 L329.34,242.06 L329.71,242.44 L330.08,242.83 L330.45,243.21 L330.81,243.59 L331.18,243.97 L331.55,244.36 L331.92,244.74 L332.29,245.12 L332.66,245.50 L333.03,245.88 L333.40,246.25 L333.77,246.63 L334.13,247.01 L334.50,247.38 L334.87,247.76 L335.24,248.13 L335.61,248.51 L335.98,248.88 L336.35,249.25 L336.72,249.62 L337.08,249.99 L337.45,250.36 L337.82,250.73" stroke="#006400" stroke-width="1.5" stroke-dasharray="9.4 4.3 2 4.9"/>
<path d="M337.82,250.73 L338.19,251.10 L338.56,251.47 L338.93,251.84 L339.30,252.21 L339.67,252.57 L340.04,252.94 L340.40,253.30 L340.77,253.67 L341.14,254.03 L341.51,254.39 L341.88,254.75 L342.25,255.12 L342.62,255.48 L342.99,255.84 L343.36,256.20 L343.72,256.56 L344.09,256.91 L344.46,257.27 L344.83,257.63 L345.20,257.98 L345.57,258.34 L345.94,258.69 L346.31,259.05 L346.67,259.40 L347.04,259.76 L347.41,260.11 L347.78,260.46 L348.15,260.81 L348.52,261.16 L348.89,261.51 L349.26,261.86 L349.63,262.21 L349.99,262.56 L350.36,262.90 L350.73,263.25 L351.10,263.60 L351.47,263.94 L351.84,264.29 L352.21,264.63 L352.58,264.97 L352.95,265.32 L353.31,265.66 L353.68,266.00 L354.05,266.34 L354.42,266.68 L354.79,267.02 L355.16,267.36 L355.53,267.70 L355.90,268.04 L356.26,268.38 L356.63,268.71 L357.00,269.05 L357.37,269.38 L357.74,269.72 L358.11,270.05 L358.48,270.39 L358.85,270.72 L359.22,271.05 L359.58,271.39 L359.95,271.72 L360.32,272.05 L360.69,272.38 L361.06,272.71 L361.43,273.04 L361.80,273.37 L362.17,273.69 L362.54,274.02 L362.90,274.35 L363.27,274.67 L363.64,275.00 L364.01,275.32 L364.38,275.65 L364.75,275.97 L365.12,276.30 L365.49,276.62 L365.85,276.94 L366.22,277.26 L366.59,277.58 L366.96,277.90 L367.33,278.22 L367.70,278.54 L368.07,278.86 L368.44,279.18 L368.81,279.50 L369.17,279.82 L369.54,280.13 L369.91,280.45 L370.28,280.76 L370.65,281.08 L371.02,281.39 L371.39,281.71 L371.76,282.02 L372.13,282.33 L372.49,282.65 L372.86,282.96 L373.23,283.27 L373.60,283.58 L373.97,283.89 L374.34,284.20 L374.71,284.51 L375.08,284.82 L375.44,285.12 L375.81,285.43 L376.18,285.74 L376.55,286.04 L376.92,286.35 L377.29,286.65 L377.66,286.96 L378.03,287.26 L378.40,287.57 L378.76,287.87 L379.13,288.17 L379.50,288.47 L379.87,288.78 L380.24,289.08 L380.61,289.38 L380.98,289.68 L381.35,289.98 L381.72,290.28 L382.08,290.57 L382.45,290.87 L382.82,291.17 L383.19,291.47 L383.56,291.76 L383.93,292.06 L384.30,292.35 L384.67,292.65 L385.04,292.94 L385.40,293.24 L385.77,293.53 L386.14,293.82 L386.51,294.12 L386.88,294.41 L387.25,294.70 L387.62,294.99 L387.99,295.28 L388.35,295.57 L388.72,295.86 L389.09,296.15 L389.46,296.44 L389.83,296.73 L390.20,297.01 L390.57,297.30 L390.94,297.59 L391.31,297.87 L391.67,298.16 L392.04,298.44 L392.41,298.73 L392.78,299.01 L393.15,299.29" stroke="#006400" stroke-width="1.5" stroke-dasharray="9.4 4.3 2 4.9"/>
<path d="M393.15,299.29 L394.63,300.42 L396.10,301.55 L397.58,302.66 L399.05,303.77 L400.53,304.87 L402.00,305.96 L403.48,307.04 L404.95,308.12 L406.43,309.19 L407.90,310.25 L409.38,311.31 L410.85,312.36 L412.33,313.40 L413.81,314.44 L415.28,315.46 L416.76,316.49 L418.23,317.50 L419.71,318.51 L421.18,319.51 L422.66,320.51 L424.13,321.50 L425.61,322.48 L427.08,323.46 L428.56,324.43 L430.03,325.39 L431.51,326.35 L432.99,327.30 L434.46,328.24 L435.94,329.18 L437.41,330.12 L438.89,331.05 L440.36,331.97 L441.84,332.88 L443.31,333.79 L444.79,334.70 L446.26,335.60 L447.74,336.49 L448.48,336.93" stroke="#006400" stroke-width="1.5" stroke-dasharray="9.4 4.3 2 4.9"/>
<path d="M448.48,336.93 L449.95,337.82 L451.43,338.70 L452.90,339.57 L454.38,340.44 L455.85,341.30 L457.33,342.16 L458.80,343.01 L460.28,343.86 L461.76,344.70 L463.23,345.54 L464.71,346.37 L466.18,347.20 L467.66,348.02 L469.13,348.84 L470.61,349.65 L472.08,350.46 L473.56,351.26 L475.03,352.06 L476.51,352.85 L477.98,353.64 L479.46,354.42 L480.94,355.20 L482.41,355.97 L483.89,356.74 L485.36,357.51 L486.84,358.27 L488.31,359.02 L489.79,359.77 L491.26,360.52 L492.74,361.26 L494.21,362.00 L495.69,362.74 L497.17,363.47 L498.64,364.19 L500.12,364.91 L501.59,365.63 L503.07,366.34 L503.80,366.70" stroke="#006400" stroke-width="1.5" stroke-dasharray="9.4 4.3 2 4.9"/>
<path d="M503.80,366.70 L505.28,367.40 L506.76,368.11 L508.23,368.81 L509.71,369.50 L511.18,370.19 L512.66,370.88 L514.13,371.56 L515.61,372.24 L517.08,372.92 L518.56,373.59 L520.03,374.26 L521.51,374.92 L522.98,375.58 L524.46,376.24 L525.94,376.89 L527.41,377.54 L528.89,378.19 L530.36,378.83 L531.84,379.47 L533.31,380.11 L534.79,380.74 L536.26,381.37 L537.74,381.99 L539.21,382.61 L540.69,383.23 L542.16,383.85 L543.64,384.46 L545.12,385.07 L546.59,385.67 L548.07,386.27 L549.54,386.87 L551.02,387.47 L552.49,388.06 L553.97,388.65 L555.44,389.24 L556.92,389.82 L558.39,390.40 L559.13,390.69" stroke="#006400" stroke-width="1.5" stroke-dasharray="9.4 4.3 2 4.9"/>
<path d="M559.13,390.69 L560.61,391.26 L562.08,391.84 L563.56,392.41 L565.03,392.97 L566.51,393.54 L567.98,394.10 L569.46,394.63 L570.93,395.10 L572.41,395.54 L573.89,395.93 L575.36,396.29 L576.84,396.61 L578.31,396.90 L579.79,397.14 L581.26,397.35 L582.74,397.53 L584.21,397.78 L585.69,398.14 L587.16,398.50 L588.64,398.85 L590.11,399.21 L591.59,399.56 L593.07,399.91 L594.54,400.26 L596.02,400.61 L597.49,400.96 L598.97,401.31 L600.44,401.65 L601.92,402.00 L603.39,402.34 L604.87,402.68 L606.34,403.02 L607.82,403.36 L609.30,403.70 L610.77,404.04 L612.25,404.37 L613.72,404.70 L614.46,404.87" stroke="#006400" stroke-width="1.5" stroke-dasharray="9.4 4.3 2 4.9"/>
<path d="M614.46,404.87 L615.93,405.20 L617.41,405.53 L618.89,405.86 L620.36,406.19 L621.84,406.51 L623.31,406.84 L624.79,407.16 L626.26,407.48 L627.74,407.80 L629.21,408.12 L630.69,408.44 L632.16,408.75 L633.64,409.07 L635.11,409.38 L636.59,409.69 L638.07,410.00 L639.54,410.31 L641.02,410.62 L642.49,410.92 L643.97,411.23 L645.44,411.53 L646.92,411.83 L648.39,412.13 L649.87,412.43 L651.34,412.73 L652.82,413.03 L654.29,413.32 L655.77,413.61 L657.25,413.91 L658.72,414.20 L660.20,414.49 L661.67,414.77 L663.15,415.06 L664.62,415.34 L666.10,415.63 L667.57,415.91 L669.05,416.19 L669.79,416.33" stroke="#006400" stroke-width="1.5" stroke-dasharray="9.4 4.3 2 4.9"/>
<path d="M669.79,416.33 L671.26,416.61 L672.74,416.89 L674.21,417.16 L675.69,417.44 L677.16,417.71 L678.64,417.99 L680.11,418.26 L681.59,418.53 L683.06,418.79 L684.54,419.06 L686.02,419.33 L687.49,419.59 L688.97,419.85 L690.44,420.12 L691.92,420.38 L693.39,420.64 L694.87,420.89 L696.34,421.15 L697.82,421.41 L699.29,421.66 L700.77,421.91 L702.24,422.17 L703.72,422.42 L705.20,422.67 L706.67,422.91 L708.15,423.16 L709.62,423.41 L711.10,423.65 L712.57,423.89 L714.05,424.14 L715.52,424.38 L717.00,424.62 L718.47,424.85 L719.95,425.09 L721.43,425.33 L722.90,425.56 L724.38,425.80 L725.11,425.91" stroke="#006400" stroke-width="1.5" stroke-dasharray="9.4 4.3 2 4.9"/>
<path d="M725.11,425.91 L726.59,426.14 L728.06,426.38 L729.54,426.61 L731.02,426.83 L732.49,427.06 L733.97,427.29 L735.44,427.51 L736.92,427.74 L738.39,427.96 L739.87,428.18 L741.34,428.40 L742.82,428.62 L744.29,428.84 L745.77,429.06 L747.24,429.27 L748.72,429.49 L750.20,429.70 L751.67,429.92 L753.15,430.13 L754.62,430.34 L756.10,430.55 L757.57,430.76 L759.05,430.97 L760.52,431.18 L762.00,431.38 L763.47,431.59 L764.95,431.79 L766.42,431.99 L767.90,432.20" stroke="#006400" stroke-width="1.5" stroke-dasharray="9.4 4.3 2 4.9"/>
<path d="M225.69,103.52 L226.06,104.95 L226.43,106.34 L226.80,107.71 L227.17,109.06 L227.54,110.38 L227.91,111.67 L228.27,112.95 L228.64,114.20 L229.01,115.42 L229.38,116.63 L229.75,117.81 L230.12,118.98 L230.49,120.12 L230.86,121.25 L231.23,122.35 L231.59,123.44 L231.96,124.51 L232.33,125.56 L232.70,126.60 L233.07,127.62 L233.44,128.62 L233.81,129.61 L234.18,130.59 L234.54,131.54 L234.91,132.49 L235.28,133.42 L235.65,134.33 L236.02,135.24 L236.39,136.13 L236.76,137.00 L237.13,137.87 L237.50,138.72 L237.86,139.57 L238.23,140.40 L238.60,141.22 L238.97,142.02 L239.34,142.82 L239.71,143.61 L240.08,144.39 L240.45,145.16 L240.82,145.92 L241.18,146.67 L241.55,147.41 L241.92,148.14 L242.29,148.87 L242.66,149.58 L243.03,150.29 L243.40,150.99 L243.77,151.68 L244.13,152.37 L244.50,153.04 L244.87,153.71 L245.24,154.38 L245.61,155.03 L245.98,155.68 L246.35,156.33 L246.72,156.96 L247.09,157.60 L247.45,158.22 L247.82,158.84 L248.19,159.45 L248.56,160.06 L248.93,160.67 L249.30,161.26 L249.67,161.86 L250.04,162.44 L250.41,163.03 L250.77,163.60 L251.14,164.18 L251.51,164.75 L251.88,165.31 L252.25,165.87 L252.62,166.43 L252.99,166.98 L253.36,167.53 L253.72,168.07 L254.09,168.61 L254.46,169.15 L254.83,169.68 L255.20,170.21 L255.57,170.73 L255.94,171.25 L256.31,171.77 L256.68,172.29 L257.04,172.80 L257.41,173.31 L257.78,173.82 L258.15,174.32 L258.52,174.82 L258.89,175.32 L259.26,175.81 L259.63,176.30 L260.00,176.79 L260.36,177.28 L260.73,177.76 L261.10,178.25 L261.47,178.73 L261.84,179.20 L262.21,179.68 L262.58,180.15 L262.95,180.62 L263.31,181.09 L263.68,181.55 L264.05,182.02 L264.42,182.48 L264.79,182.94 L265.16,183.40 L265.53,183.85 L265.90,184.31 L266.27,184.76 L266.63,185.21 L267.00,185.66 L267.37,186.11 L267.74,186.55 L268.11,186.99 L268.48,187.44 L268.85,187.88 L269.22,188.32 L269.59,188.75 L269.95,189.19 L270.32,189.62 L270.69,190.06 L271.06,190.49 L271.43,190.92 L271.80,191.35 L272.17,191.78 L272.54,192.20 L272.91,192.63 L273.27,193.05 L273.64,193.47 L274.01,193.90 L274.38,194.32 L274.75,194.74 L275.12,195.15 L275.49,195.57 L275.86,195.99 L276.22,196.40 L276.59,196.81 L276.96,197.23 L277.33,197.64 L277.70,198.05 L278.07,198.46 L278.44,198.87 L278.81,199.27 L279.18,199.68 L279.54,200.09 L279.91,200.49 L280.28,200.89 L280.65,201.30 L281.02,201.70" stroke="#ffa500" stroke-width="1.5" stroke-dasharray="9.4 4.3 2 4.9"/>
<path d="M281.02,201.70 L281.39,202.10 L281.76,202.50 L282.13,202.90 L282.50,203.30 L282.86,203.70 L283.23,204.09 L283.60,204.49 L283.97,204.89 L284.34,205.28 L284.71,205.68 L285.08,206.07 L285.45,206.46 L285.81,206.85 L286.18,207.24 L286.55,207.63 L286.92,208.02 L287.29,208.41 L287.66,208.80 L288.03,209.19 L288.40,209.58 L288.77,209.96 L289.13,210.35 L289.50,210.73 L289.87,211.12 L290.24,211.50 L290.61,211.88 L290.98,212.27 L291.35,212.65 L291.72,213.03 L292.09,213.41 L292.45,213.79 L292.82,214.17 L293.19,214.55 L293.56,214.93 L293.93,215.30 L294.30,215.68 L294.67,216.06 L295.04,216.43 L295.40,216.81 L295.77,217.18 L296.14,217.56 L296.51,217.93 L296.88,218.30 L297.25,218.68 L297.62,219.05 L297.99,219.42 L298.36,219.79 L298.72,220.16 L299.09,220.53 L299.46,220.90 L299.83,221.27 L300.20,221.64 L300.57,222.01 L300.94,222.38 L301.31,222.74 L301.68,223.11 L302.04,223.48 L302.41,223.84 L302.78,224.21 L303.15,224.57 L303.52,224.94 L303.89,225.30 L304.26,225.66 L304.63,226.02 L304.99,226.39 L305.36,226.75 L305.73,227.11 L306.10,227.47 L306.47,227.83 L306.84,228.19 L307.21,228.55 L307.58,228.91 L307.95,229.27 L308.31,229.63 L308.68,229.98 L309.05,230.34 L309.42,230.70 L309.79,231.05 L310.16,231.41 L310.53,231.77 L310.90,232.12 L311.27,232.48 L311.63,232.83 L312.00,233.18 L312.37,233.54 L312.74,233.89 L313.11,234.24 L313.48,234.59 L313.85,234.94 L314.22,235.30 L314.58,235.65 L314.95,236.00 L315.32,236.35 L315.69,236.70 L316.06,237.04 L316.43,237.39 L316.80,237.74 L317.17,238.09 L317.54,238.44 L317.90,238.78 L318.27,239.13 L318.64,239.48 L319.01,239.82 L319.38,240.17 L319.75,240.51 L320.12,240.85 L320.49,241.20 L320.86,241.54 L321.22,241.89 L321.59,242.23 L321.96,242.57 L322.33,242.91 L322.70,243.25 L323.07,243.59 L323.44,243.93 L323.81,244.27 L324.18,244.61 L324.54,244.95 L324.91,245.29 L325.28,245.63 L325.65,245.97 L326.02,246.31 L326.39,246.64 L326.76,246.98 L327.13,247.32 L327.49,247.65 L327.86,247.99 L328.23,248.32 L328.60,248.66 L328.97,248.99 L329.34,249.33 L329.71,249.66 L330.08,249.99 L330.45,250.33 L330.81,250.66 L331.18,250.99 L331.55,251.32 L331.92,251.65 L332.29,251.98 L332.66,252.31 L333.03,252.64 L333.40,252.97 L333.77,253.30 L334.13,253.63 L334.50,253.96 L334.87,254.29 L335.24,254.61 L335.61,254.94 L335.98,255.27 L336.35,255.59" stroke="#ffa500" stroke-width="1.5" stroke-dasharray="9.4 4.3 2 4.9"/>
<path d="M336.35,255.59 L336.72,255.92 L337.08,256.24 L337.45,256.57 L337.82,256.89 L338.19,257.22 L338.56,257.54 L338.93,257.87 L339.30,258.19 L339.67,258.51 L340.04,258.83 L340.40,259.16 L340.77,259.48 L341.14,259.80 L341.51,260.12 L341.88,260.44 L342.25,260.76 L342.62,261.08 L342.99,261.40 L343.36,261.71 L343.72,262.03 L344.09,262.35 L344.46,262.67 L344.83,262.98 L345.20,263.30 L345.57,263.62 L345.94,263.93 L346.31,264.25 L346.67,264.56 L347.04,264.88 L347.41,265.19 L347.78,265.51 L348.15,265.82 L348.52,266.13 L348.89,266.44 L349.26,266.76 L349.63,267.07 L349.99,267.38 L350.36,267.69 L350.73,268.00 L351.10,268.31 L351.47,268.62 L351.84,268.93 L352.21,269.24 L352.58,269.55 L352.95,269.86 L353.31,270.16 L353.68,270.47 L354.05,270.78 L354.42,271.08 L354.79,271.39 L355.16,271.70 L355.53,272.00 L355.90,272.31 L356.26,272.61 L356.63,272.92 L357.00,273.22 L357.37,273.52 L357.74,273.83 L358.11,274.13 L358.48,274.43 L358.85,274.73 L359.22,275.03 L359.58,275.34 L359.95,275.64 L360.32,275.94 L360.69,276.24 L361.06,276.54 L361.43,276.83 L361.80,277.13 L362.17,277.43 L362.54,277.73 L362.90,278.03 L363.27,278.32 L363.64,278.62 L364.01,278.92 L364.38,279.21 L364.75,279.51 L365.12,279.80 L365.49,280.10 L365.85,280.39 L366.22,280.69 L366.59,280.98 L366.96,281.27 L367.33,281.57 L367.70,281.86 L368.07,282.15 L368.44,282.44 L368.81,282.73 L369.17,283.02 L369.54,283.31 L369.91,283.60 L370.28,283.89 L370.65,284.18 L371.02,284.47 L371.39,284.76 L371.76,285.05 L372.13,285.34 L372.49,285.62 L372.86,285.91 L373.23,286.20 L373.60,286.48 L373.97,286.77 L374.34,287.06 L374.71,287.34 L375.08,287.63 L375.44,287.91 L375.81,288.19 L376.18,288.48 L376.55,288.76 L376.92,289.04 L377.29,289.33 L377.66,289.61 L378.03,289.89 L378.40,290.17 L378.76,290.45 L379.13,290.73 L379.50,291.01 L379.87,291.29 L380.24,291.57 L380.61,291.85 L380.98,292.13 L381.35,292.41 L381.72,292.69 L382.08,292.96 L382.45,293.24 L382.82,293.52 L383.19,293.79 L383.56,294.07 L383.93,294.34 L384.30,294.62 L384.67,294.89 L385.04,295.17 L385.40,295.44 L385.77,295.72 L386.14,295.99 L386.51,296.26 L386.88,296.54 L387.25,296.81 L387.62,297.08 L387.99,297.35 L388.35,297.62 L388.72,297.89 L389.09,298.16 L389.46,298.43 L389.83,298.70 L390.20,298.97 L390.57,299.24 L390.94,299.51 L391.31,299.78 L391.67,300.05" stroke="#ffa500" stroke-width="1.5" stroke-dasharray="9.4 4.3 2 4.9"/>
<path d="M391.67,300.05 L393.15,301.11 L394.63,302.18 L396.10,303.23 L397.58,304.28 L399.05,305.33 L400.53,306.36 L402.00,307.40 L403.48,308.42 L404.95,309.45 L406.43,310.46 L407.90,311.47 L409.38,312.48 L410.85,313.48 L412.33,314.47 L413.81,315.46 L415.28,316.44 L416.76,317.42 L418.23,318.39 L419.71,319.36 L421.18,320.32 L422.66,321.27 L424.13,322.22 L425.61,323.17 L427.08,324.11 L428.56,325.05 L430.03,325.98 L431.51,326.90 L432.99,327.82 L434.46,328.73 L435.94,329.64 L437.41,330.55 L438.89,331.45 L440.36,332.34 L441.84,333.23 L443.31,334.12 L444.79,335.00 L446.26,335.87 L447.00,336.31" stroke="#ffa500" stroke-width="1.5" stroke-dasharray="9.4 4.3 2 4.9"/>
<path d="M447.00,336.31 L448.48,337.17 L449.95,338.04 L451.43,338.90 L452.90,339.75 L454.38,340.60 L455.85,341.44 L457.33,342.28 L458.80,343.12 L460.28,343.95 L461.76,344.77 L463.23,345.60 L464.71,346.41 L466.18,347.23 L467.66,348.03 L469.13,348.84 L470.61,349.64 L472.08,350.43 L473.56,351.22 L475.03,352.01 L476.51,352.79 L477.98,353.57 L479.46,354.35 L480.94,355.12 L482.41,355.88 L483.89,356.64 L485.36,357.40 L486.84,358.16 L488.31,358.90 L489.79,359.65 L491.26,360.39 L492.74,361.13 L494.21,361.86 L495.69,362.59 L497.17,363.32 L498.64,364.04 L500.12,364.76 L501.59,365.48 L502.33,365.83" stroke="#ffa500" stroke-width="1.5" stroke-dasharray="9.4 4.3 2 4.9"/>
<path d="M502.33,365.83 L503.80,366.54 L505.28,367.25 L506.76,367.95 L508.23,368.65 L509.71,369.34 L511.18,370.03 L512.66,370.72 L514.13,371.40 L515.61,372.08 L517.08,372.76 L518.56,373.43 L520.03,374.10 L521.51,374.77 L522.98,375.43 L524.46,376.09 L525.94,376.75 L527.41,377.40 L528.89,378.05 L530.36,378.69 L531.84,379.34 L533.31,379.98 L534.79,380.61 L536.26,381.25 L537.74,381.88 L539.21,382.50 L540.69,383.13 L542.16,383.75 L543.64,384.36 L545.12,384.98 L546.59,385.59 L548.07,386.20 L549.54,386.80 L551.02,387.40 L552.49,388.00 L553.97,388.60 L555.44,389.19 L556.92,389.78 L557.66,390.08" stroke="#ffa500" stroke-width="1.5" stroke-dasharray="9.4 4.3 2 4.9"/>
<path d="M557.66,390.08 L559.13,390.66 L560.61,391.25 L562.08,391.83 L563.56,392.40 L565.03,392.98 L566.51,393.55 L567.98,394.12 L569.46,394.66 L570.93,395.14 L572.41,395.57 L573.89,395.97 L575.36,396.33 L576.84,396.65 L578.31,396.92 L579.79,397.16 L581.26,397.37 L582.74,397.53 L584.21,397.78 L585.69,398.14 L587.16,398.50 L588.64,398.85 L590.11,399.21 L591.59,399.56 L593.07,399.91 L594.54,400.26 L596.02,400.61 L597.49,400.96 L598.97,401.31 L600.44,401.65 L601.92,402.00 L603.39,402.34 L604.87,402.68 L606.34,403.02 L607.82,403.36 L609.30,403.70 L610.77,404.04 L612.25,404.37 L612.98,404.54" stroke="#ffa500" stroke-width="1.5" stroke-dasharray="9.4 4.3 2 4.9"/>
<path d="M612.98,404.54 L614.46,404.87 L615.93,405.20 L617.41,405.53 L618.89,405.86 L620.36,406.19 L621.84,406.51 L623.31,406.84 L624.79,407.16 L626.26,407.48 L627.74,407.80 L629.21,408.12 L630.69,408.44 L632.16,408.75 L633.64,409.07 L635.11,409.38 L636.59,409.69 L638.07,410.00 L639.54,410.31 L641.02,410.62 L642.49,410.92 L643.97,411.23 L645.44,411.53 L646.92,411.83 L648.39,412.13 L649.87,412.43 L651.34,412.73 L652.82,413.03 L654.29,413.32 L655.77,413.61 L657.25,413.91 L658.72,414.20 L660.20,414.49 L661.67,414.77 L663.15,415.06 L664.62,415.34 L666.10,415.63 L667.57,415.91 L668.31,416.05" stroke="#ffa500" stroke-width="1.5" stroke-dasharray="9.4 4.3 2 4.9"/>
<path d="M668.31,416.05 L669.79,416.33 L671.26,416.61 L672.74,416.89 L674.21,417.16 L675.69,417.44 L677.16,417.71 L678.64,417.99 L680.11,418.26 L681.59,418.53 L683.06,418.79 L684.54,419.06 L686.02,419.33 L687.49,419.59 L688.97,419.85 L690.44,420.12 L691.92,420.38 L693.39,420.64 L694.87,420.89 L696.34,421.15 L697.82,421.41 L699.29,421.66 L700.77,421.91 L702.24,422.17 L703.72,422.42 L705.20,422.67 L706.67,422.91 L708.15,423.16 L709.62,423.41 L711.10,423.65 L712.57,423.89 L714.05,424.14 L715.52,424.38 L717.00,424.62 L718.47,424.85 L719.95,425.09 L721.43,425.33 L722.90,425.56 L723.64,425.68" stroke="#ffa500" stroke-width="1.5" stroke-dasharray="9.4 4.3 2 4.9"/>
<path d="M723.64,425.68 L725.11,425.91 L726.59,426.14 L728.06,426.38 L729.54,426.61 L731.02,426.83 L732.49,427.06 L733.97,427.29 L735.44,427.51 L736.92,427.74 L738.39,427.96 L739.87,428.18 L741.34,428.40 L742.82,428.62 L744.29,428.84 L745.77,429.06 L747.24,429.27 L748.72,429.49 L750.20,429.70 L751.67,429.92 L753.15,430.13 L754.62,430.34 L756.10,430.55 L757.57,430.76 L759.05,430.97 L760.52,431.18 L762.00,431.38 L763.47,431.59 L764.95,431.79 L766.42,431.99 L767.90,432.20" stroke="#ffa500" stroke-width="1.5" stroke-dasharray="9.4 4.3 2 4.9"/>
<path d="M225.69,130.29 L226.06,131.53 L226.43,132.74 L226.80,133.92 L227.17,135.08 L227.54,136.21 L227.91,137.33 L228.27,138.41 L228.64,139.48 L229.01,140.53 L229.38,141.55 L229.75,142.56 L230.12,143.54 L230.49,144.51 L230.86,145.46 L231.23,146.39 L231.59,147.30 L231.96,148.20 L232.33,149.08 L232.70,149.94 L233.07,150.79 L233.44,151.62 L233.81,152.44 L234.18,153.25 L234.54,154.04 L234.91,154.82 L235.28,155.58 L235.65,156.34 L236.02,157.08 L236.39,157.80 L236.76,158.52 L237.13,159.23 L237.50,159.92 L237.86,160.61 L238.23,161.28 L238.60,161.94 L238.97,162.60 L239.34,163.24 L239.71,163.88 L240.08,164.50 L240.45,165.12 L240.82,165.73 L241.18,166.33 L241.55,166.93 L241.92,167.51 L242.29,168.09 L242.66,168.66 L243.03,169.22 L243.40,169.78 L243.77,170.33 L244.13,170.88 L244.50,171.41 L244.87,171.94 L245.24,172.47 L245.61,172.99 L245.98,173.50 L246.35,174.01 L246.72,174.51 L247.09,175.01 L247.45,175.50 L247.82,175.99 L248.19,176.48 L248.56,176.95 L248.93,177.43 L249.30,177.90 L249.67,178.36 L250.04,178.82 L250.41,179.28 L250.77,179.74 L251.14,180.19 L251.51,180.63 L251.88,181.07 L252.25,181.51 L252.62,181.95 L252.99,182.38 L253.36,182.81 L253.72,183.24 L254.09,183.66 L254.46,184.08 L254.83,184.50 L255.20,184.91 L255.57,185.32 L255.94,185.73 L256.31,186.14 L256.68,186.54 L257.04,186.95 L257.41,187.35 L257.78,187.74 L258.15,188.14 L258.52,188.53 L258.89,188.92 L259.26,189.31 L259.63,189.70 L260.00,190.08 L260.36,190.47 L260.73,190.85 L261.10,191.23 L261.47,191.61 L261.84,191.98 L262.21,192.36 L262.58,192.73 L262.95,193.10 L263.31,193.47 L263.68,193.84 L264.05,194.21 L264.42,194.58 L264.79,194.94 L265.16,195.31 L265.53,195.67 L265.90,196.03 L266.27,196.39 L266.63,196.75 L267.00,197.11 L267.37,197.46 L267.74,197.82 L268.11,198.17 L268.48,198.53 L268.85,198.88 L269.22,199.23 L269.59,199.58 L269.95,199.93 L270.32,200.28 L270.69,200.63 L271.06,200.98 L271.43,201.33 L271.80,201.67 L272.17,202.02 L272.54,202.36 L272.91,202.71 L273.27,203.05 L273.64,203.39 L274.01,203.74 L274.38,204.08 L274.75,204.42 L275.12,204.76 L275.49,205.10 L275.86,205.44 L276.22,205.78 L276.59,206.12 L276.96,206.45 L277.33,206.79 L277.70,207.13 L278.07,207.46 L278.44,207.80 L278.81,208.13 L279.18,208.47 L279.54,208.80 L279.91,209.14 L280.28,209.47 L280.65,209.80 L281.02,210.14 L281.39,210.47 L281.76,210.80 L282.13,211.13 L282.50,211.47 L282.86,211.80 L283.23,212.13 L283.60,212.46 L283.97,212.79 L284.34,213.12 L284.71,213.45 L285.08,213.78 L285.45,214.10 L285.81,214.43 L286.18,214.76 L286.55,215.09 L286.92,215.42 L287.29,215.75 L287.66,216.07 L288.03,216.40 L288.40,216.73 L288.77,217.05 L289.13,217.38 L289.50,217.71 L289.87,218.03 L290.24,218.36 L290.61,218.68 L290.98,219.01 L291.35,219.33 L291.72,219.66 L292.09,219.98 L292.45,220.31 L292.82,220.63 L293.19,220.95 L293.56,221.28 L293.93,221.60 L294.30,221.93 L294.67,222.25 L295.04,222.57 L295.40,222.89 L295.77,223.22 L296.14,223.54 L296.51,223.86 L296.88,224.18 L297.25,224.51 L297.62,224.83 L297.99,225.15 L298.36,225.47 L298.72,225.79 L299.09,226.11 L299.46,226.43 L299.83,226.75 L300.20,227.07 L300.57,227.39 L300.94,227.71 L301.31,228.03 L301.68,228.35 L302.04,228.67 L302.41,228.99 L302.78,229.31 L303.15,229.63 L303.52,229.95 L303.89,230.27 L304.26,230.59 L304.63,230.91 L304.99,231.22 L305.36,231.54 L305.73,231.86 L306.10,232.18 L306.47,232.50 L306.84,232.81 L307.21,233.13 L307.58,233.45 L307.95,233.76 L308.31,234.08 L308.68,234.40 L309.05,234.71 L309.42,235.03 L309.79,235.35 L310.16,235.66 L310.53,235.98 L310.90,236.29 L311.27,236.61 L311.63,236.92 L312.00,237.24 L312.37,237.55 L312.74,237.87 L313.11,238.18 L313.48,238.50 L313.85,238.81 L314.22,239.13 L314.58,239.44 L314.95,239.75 L315.32,240.07 L315.69,240.38 L316.06,240.69 L316.43,241.01 L316.80,241.32 L317.17,241.63 L317.54,241.94 L317.90,242.25 L318.27,242.57 L318.64,242.88 L319.01,243.19 L319.38,243.50 L319.75,243.81 L320.12,244.12 L320.49,244.43 L320.86,244.74 L321.22,245.05 L321.59,245.36 L321.96,245.67 L322.33,245.98 L322.70,246.29 L323.07,246.60 L323.44,246.91 L323.81,247.22 L324.18,247.53 L324.54,247.84 L324.91,248.15 L325.28,248.45 L325.65,248.76 L326.02,249.07 L326.39,249.38 L326.76,249.68 L327.13,249.99 L327.49,250.30 L327.86,250.60 L328.23,250.91 L328.60,251.22 L328.97,251.52 L329.34,251.83 L329.71,252.13 L330.08,252.44 L330.45,252.74 L330.81,253.05 L331.18,253.35 L331.55,253.66 L331.92,253.96 L332.29,254.27 L332.66,254.57 L333.03,254.87 L333.40,255.18 L333.77,255.48 L334.13,255.78 L334.50,256.08 L334.87,256.39 L335.24,256.69 L335.61,256.99 L335.98,257.29 L336.35,257.59 L336.72,257.89 L337.08,258.19 L337.45,258.50 L337.82,258.80 L338.19,259.10 L338.56,259.40 L338.93,259.69 L339.30,259.99 L339.67,260.29 L340.04,260.59 L340.40,260.89 L340.77,261.19 L341.14,261.49 L341.51,261.78 L341.88,262.08 L342.25,262.38 L342.62,262.68 L342.99,262.97 L343.36,263.27 L343.72,263.57 L344.09,263.86 L344.46,264.16 L344.83,264.45 L345.20,264.75 L345.57,265.04 L345.94,265.34 L346.31,265.63 L346.67,265.93 L347.04,266.22 L347.41,266.51 L347.78,266.81 L348.15,267.10 L348.52,267.39 L348.89,267.69 L349.26,267.98 L349.63,268.27 L349.99,268.56 L350.36,268.85 L350.73,269.14 L351.10,269.43 L351.47,269.73 L351.84,270.02 L352.21,270.31 L352.58,270.60 L352.95,270.89 L353.31,271.17 L353.68,271.46 L354.05,271.75 L354.42,272.04 L354.79,272.33 L356.26,273.48 L357.74,274.62 L359.22,275.76 L360.69,276.90 L362.17,278.03 L363.64,279.16 L365.12,280.28 L366.59,281.40 L368.07,282.51 L369.54,283.62 L371.02,284.72 L372.49,285.82 L373.97,286.91 L375.44,288.00 L376.92,289.09 L378.40,290.16 L379.87,291.24 L381.35,292.31 L382.82,293.37 L384.30,294.43 L385.77,295.49 L387.25,296.54 L388.72,297.58 L390.20,298.62 L391.67,299.66 L393.15,300.69 L394.63,301.71 L396.10,302.73 L397.58,303.75 L399.05,304.76 L400.53,305.77 L402.00,306.77 L403.48,307.76 L404.95,308.75 L406.43,309.74 L407.90,310.72 L409.38,311.70 L410.85,312.67 L412.33,313.64 L413.81,314.60 L415.28,315.56 L416.76,316.51 L418.23,317.46 L419.71,318.40 L421.18,319.34 L422.66,320.28 L424.13,321.21 L425.61,322.13 L427.08,323.05 L428.56,323.97 L430.03,324.88 L431.51,325.78 L432.99,326.68 L434.46,327.58 L435.94,328.47 L437.41,329.36 L438.89,330.25 L440.36,331.12 L441.84,332.00 L443.31,332.87 L444.79,333.73 L446.26,334.60 L447.74,335.45 L449.21,336.30 L450.69,337.15 L452.17,338.00 L453.64,338.84 L455.12,339.67 L456.59,340.50 L458.07,341.33 L459.54,342.15 L461.02,342.97 L462.49,343.78 L463.97,344.59 L465.44,345.40 L466.92,346.20 L468.39,347.00 L469.87,347.79 L471.35,348.58 L472.82,349.37 L474.30,350.15 L475.77,350.93 L477.25,351.70 L478.72,352.47 L480.20,353.24 L481.67,354.00 L483.15,354.76 L484.62,355.51 L486.10,356.26 L487.57,357.01 L489.05,357.75 L490.53,358.49 L492.00,359.23 L493.48,359.96 L494.95,360.69 L496.43,361.41 L497.90,362.13 L499.38,362.85 L500.85,363.56 L502.33,364.27 L503.80,364.98 L505.28,365.68 L506.76,366.38 L508.23,367.08 L509.71,367.77 L511.18,368.46 L512.66,369.14 L514.13,369.83 L515.61,370.50 L517.08,371.18 L518.56,371.85 L520.03,372.52 L521.51,373.19 L522.98,373.85 L524.46,374.51 L525.94,375.16 L527.41,375.82 L528.89,376.47 L530.36,377.11 L531.84,377.75 L533.31,378.39 L534.79,379.03 L536.26,379.66 L537.74,380.29 L539.21,380.92 L540.69,381.55 L542.16,382.17 L543.64,382.79 L545.12,383.40 L546.59,384.01 L548.07,384.62 L549.54,385.23 L551.02,385.83 L552.49,386.43 L553.97,387.03 L555.44,387.63 L556.92,388.22 L558.39,388.81 L559.87,389.39 L561.34,389.98 L562.82,390.56 L564.30,391.14 L565.77,391.71 L567.25,392.29 L568.72,392.86 L570.20,393.42 L571.67,393.99 L573.15,394.55 L574.62,395.11 L576.10,395.67 L577.57,396.22 L579.05,396.77 L580.52,397.32 L582.00,397.87 L583.48,398.41 L584.95,398.95 L586.43,399.49 L587.90,400.03 L589.38,400.56 L590.85,401.09 L592.33,401.62 L593.80,402.15 L595.28,402.67 L596.75,403.20 L598.23,403.72 L599.70,404.23 L601.18,404.75 L602.66,405.26 L604.13,405.77 L605.61,406.28 L607.08,406.78 L608.56,407.29 L610.03,407.79 L611.51,408.29 L612.98,408.78 L614.46,409.28 L615.93,409.77 L617.41,410.26 L618.89,410.75 L620.36,411.23 L621.84,411.71 L623.31,412.20 L624.79,412.67 L626.26,413.15 L627.74,413.63 L629.21,414.10 L630.69,414.57 L632.16,415.04 L633.64,415.51 L635.11,415.97 L636.59,416.43 L638.07,416.89 L639.54,417.35 L641.02,417.81 L642.49,418.26 L643.97,418.71 L645.44,419.17 L646.92,419.61 L648.39,420.06 L649.87,420.51 L651.34,420.95 L652.82,421.39 L654.29,421.83 L655.77,422.27 L657.25,422.70 L658.72,423.13 L660.20,423.57 L661.67,424.00 L663.15,424.42 L664.62,424.85 L666.10,425.27 L667.57,425.70 L669.05,426.12 L670.52,426.54 L672.00,426.95 L673.47,427.37 L674.95,427.78 L676.43,428.20 L677.90,428.61 L679.38,429.02 L680.85,429.42 L682.33,429.83 L683.80,430.23 L685.28,430.63 L686.75,431.03 L688.23,431.43 L689.70,431.83 L691.18,432.23 L692.65,432.62 L694.13,433.01 L695.61,433.40 L697.08,433.79 L698.56,434.18 L700.03,434.56 L701.51,434.95 L702.98,435.33 L704.46,435.71 L705.93,436.09 L707.41,436.47 L708.88,436.85 L710.36,437.22 L711.84,437.60 L713.31,437.97 L714.79,438.34 L716.26,438.71 L717.74,439.08 L719.21,439.44 L720.69,439.81 L722.16,440.17 L723.64,440.53 L725.11,440.89 L726.59,441.25 L728.06,441.61 L729.54,441.97 L731.02,442.32 L732.49,442.68 L733.97,443.03 L735.44,443.38 L736.92,443.73 L738.39,444.08 L739.87,444.42 L741.34,444.77 L742.82,445.11 L744.29,445.45 L745.77,445.80 L747.24,446.14" stroke="#ff0000" stroke-width="2.3"/>
</g>
<g stroke="#2a2a2a" stroke-width="0.8" fill="none">
<rect x="207.5" y="65.5" width="560.4" height="396.0"/>
<path d="M244.13,461.5v-4.0 M244.13,65.5v4.0 M281.02,461.5v-7.9 M281.02,65.5v7.9 M317.90,461.5v-4.0 M317.90,65.5v4.0 M354.79,461.5v-4.0 M354.79,65.5v4.0 M391.67,461.5v-4.0 M391.67,65.5v4.0 M428.56,461.5v-7.9 M428.56,65.5v7.9 M465.44,461.5v-4.0 M465.44,65.5v4.0 M502.33,461.5v-4.0 M502.33,65.5v4.0 M539.21,461.5v-4.0 M539.21,65.5v4.0 M576.10,461.5v-7.9 M576.10,65.5v7.9 M612.98,461.5v-4.0 M612.98,65.5v4.0 M649.87,461.5v-4.0 M649.87,65.5v4.0 M686.75,461.5v-4.0 M686.75,65.5v4.0 M723.64,461.5v-7.9 M723.64,65.5v7.9 M760.52,461.5v-4.0 M760.52,65.5v4.0 M207.5,441.70h5.7 M767.9,441.70h-5.7 M207.5,421.90h5.7 M767.9,421.90h-5.7 M207.5,402.10h5.7 M767.9,402.10h-5.7 M207.5,382.30h11.3 M767.9,382.30h-11.3 M207.5,362.50h5.7 M767.9,362.50h-5.7 M207.5,342.70h5.7 M767.9,342.70h-5.7 M207.5,322.90h5.7 M767.9,322.90h-5.7 M207.5,303.10h11.3 M767.9,303.10h-11.3 M207.5,283.30h5.7 M767.9,283.30h-5.7 M207.5,263.50h5.7 M767.9,263.50h-5.7 M207.5,243.70h5.7 M767.9,243.70h-5.7 M207.5,223.90h11.3 M767.9,223.90h-11.3 M207.5,204.10h5.7 M767.9,204.10h-5.7 M207.5,184.30h5.7 M767.9,184.30h-5.7 M207.5,164.50h5.7 M767.9,164.50h-5.7 M207.5,144.70h11.3 M767.9,144.70h-11.3 M207.5,124.90h5.7 M767.9,124.90h-5.7 M207.5,105.10h5.7 M767.9,105.10h-5.7 M207.5,85.30h5.7 M767.9,85.30h-5.7"/>
</g>
<g fill="none" stroke-width="1.5">
<path d="M345.9,96.8H396.5" stroke="#ff0000" stroke-dasharray="9.5 9.3"/>
<path d="M345.9,122.4H396.5" stroke="#a020f0" stroke-dasharray="9.5 9.3"/>
<path d="M345.9,148.1H396.5" stroke="#006400" stroke-dasharray="9.5 4.4 2 5.2"/>
<path d="M345.9,173.6H396.5" stroke="#ffa500" stroke-dasharray="9.5 4.4 2 5.2"/>
<path d="M231.5,381.8H282.2" stroke="#000"/>
<path d="M231.5,407.4H282.2" stroke="#0000ff"/>
<path d="M231.5,432.9H282.2" stroke="#ff0000" stroke-width="2.3"/>
</g>
<g style="font-family:'Liberation Sans',sans-serif" fill="#000" stroke="#000" stroke-width="0.45">
<text x="281.02" y="511.3" font-size="27.7" stroke-width="0.5" text-anchor="middle">2000</text>
<text x="428.86" y="511.3" font-size="27.7" stroke-width="0.5" text-anchor="middle">4000</text>
<text x="576.40" y="511.3" font-size="27.7" stroke-width="0.5" text-anchor="middle">6000</text>
<text x="723.94" y="511.3" font-size="27.7" stroke-width="0.5" text-anchor="middle">8000</text>
<text x="197.6" y="89.0" font-size="28" stroke-width="0.5" text-anchor="end">8</text>
<text x="197.6" y="158.3" font-size="28" stroke-width="0.5" text-anchor="end">6</text>
<text x="197.6" y="237.5" font-size="28" stroke-width="0.5" text-anchor="end">4</text>
<text x="197.6" y="317.0" font-size="28" stroke-width="0.5" text-anchor="end">2</text>
<text x="197.6" y="396.3" font-size="28" stroke-width="0.5" text-anchor="end">0</text>
<text x="197.6" y="461.9" font-size="28" stroke-width="0.5" text-anchor="end">-2</text>
<g stroke-width="0.5"><text font-size="28" x="479.3" y="553.7">(</text><text font-size="28" x="488.1" y="553.7">A</text><text font-size="28" x="505.8" y="553.7">)</text></g>
<circle cx="497.1" cy="530.5" r="2.35" fill="none" stroke="#000" stroke-width="1.4"/>
<text font-size="26" x="459.2" y="553.7" stroke-width="0.5" style="font-family:'Liberation Serif',serif;font-style:italic">λ</text>
<g transform="translate(142.2,292.6) rotate(-90)" stroke-width="0.5"><text font-size="28" x="0" y="0">fQ(</text><text font-size="26" x="37.4" y="0" style="font-family:'Liberation Serif',serif;font-style:italic">λ</text><text font-size="28" x="47.7" y="0">)</text></g>
<text x="412.86" y="103.20" font-size="17.8">Wild</text>
<path d="M449.96,97.80h10.7M455.31,92.45v10.7" fill="none" stroke="#000" stroke-width="1.4"/>
<text x="462.77" y="103.20" font-size="17.8">11</text>
<text x="488.19" y="103.20" font-size="17.8">(z</text>
<path transform="translate(502.60,98.40)" d="M0,1.0C1.4,-1.1 3.0,-1.9 4.7,-1.5C6.8,-1.0 7.4,1.4 9.5,1.6C11.1,1.7 12.2,0.4 13,-1.0" fill="none" stroke="#000" stroke-width="1.45"/>
<text x="515.99" y="103.20" font-size="17.8">0;</text>
<text x="534.80" y="103.20" font-size="19.0" style="font-family:'Liberation Serif',serif;font-style:italic">μ</text>
<text x="545.15" y="110.40" font-size="14.0">*</text>
<path d="M563.18,93.25L553.88,97.70L563.18,102.15" fill="none" stroke="#000" stroke-width="1.45"/>
<text x="565.33" y="103.20" font-size="17.8">3</text>
<path d="M578.20,94.00L586.60,102.40M578.20,102.40L586.60,94.00" fill="none" stroke="#000" stroke-width="1.35"/>
<text x="589.37" y="103.20" font-size="17.8">10</text>
<text x="608.41" y="93.70" font-size="11.5">8</text>
<text x="619.67" y="103.20" font-size="17.8">)</text>
<text x="412.86" y="128.70" font-size="17.8">Wild</text>
<path d="M449.96,123.30h10.7M455.31,117.95v10.7" fill="none" stroke="#000" stroke-width="1.4"/>
<text x="462.77" y="128.70" font-size="17.8">11</text>
<text x="488.19" y="128.70" font-size="17.8">(z</text>
<path transform="translate(502.60,123.90)" d="M0,1.0C1.4,-1.1 3.0,-1.9 4.7,-1.5C6.8,-1.0 7.4,1.4 9.5,1.6C11.1,1.7 12.2,0.4 13,-1.0" fill="none" stroke="#000" stroke-width="1.45"/>
<text x="515.99" y="128.70" font-size="17.8">0;</text>
<text x="534.80" y="128.70" font-size="19.0" style="font-family:'Liberation Serif',serif;font-style:italic">μ</text>
<text x="545.15" y="135.90" font-size="14.0">*</text>
<path d="M553.08,118.75L562.38,123.20L553.08,127.65" fill="none" stroke="#000" stroke-width="1.45"/>
<text x="565.33" y="128.70" font-size="17.8">3</text>
<path d="M578.20,119.50L586.60,127.90M578.20,127.90L586.60,119.50" fill="none" stroke="#000" stroke-width="1.35"/>
<text x="589.37" y="128.70" font-size="17.8">10</text>
<text x="608.41" y="119.20" font-size="11.5">8</text>
<text x="619.67" y="128.70" font-size="17.8">)</text>
<text x="412.23" y="154.20" font-size="17.8">Reddy</text>
<path d="M466.80,148.80h10.7M472.15,143.45v10.7" fill="none" stroke="#000" stroke-width="1.4"/>
<text x="479.56" y="154.20" font-size="17.8">15</text>
<text x="504.69" y="154.20" font-size="17.8">(z</text>
<path transform="translate(520.40,149.40)" d="M0,1.0C1.4,-1.1 3.0,-1.9 4.7,-1.5C6.8,-1.0 7.4,1.4 9.5,1.6C11.1,1.7 12.2,0.4 13,-1.0" fill="none" stroke="#000" stroke-width="1.45"/>
<text x="533.11" y="154.20" font-size="17.8">2;</text>
<text x="552.50" y="154.20" font-size="17.8">-9.60</text>
<path d="M605.70,144.25L596.40,148.70L605.70,153.15" fill="none" stroke="#000" stroke-width="1.45"/>
<text x="608.80" y="154.20" font-size="17.8" letter-spacing="0.28">log[sSFR]</text>
<path d="M702.10,144.25L692.80,148.70L702.10,153.15" fill="none" stroke="#000" stroke-width="1.45"/>
<text x="704.10" y="154.20" font-size="17.8">-8.84)</text>
<text x="412.23" y="179.60" font-size="17.8">Reddy</text>
<path d="M466.80,174.20h10.7M472.15,168.85v10.7" fill="none" stroke="#000" stroke-width="1.4"/>
<text x="479.56" y="179.60" font-size="17.8">15</text>
<text x="504.69" y="179.60" font-size="17.8">(z</text>
<path transform="translate(520.40,174.80)" d="M0,1.0C1.4,-1.1 3.0,-1.9 4.7,-1.5C6.8,-1.0 7.4,1.4 9.5,1.6C11.1,1.7 12.2,0.4 13,-1.0" fill="none" stroke="#000" stroke-width="1.45"/>
<text x="533.11" y="179.60" font-size="17.8">2;</text>
<text x="552.50" y="179.60" font-size="17.8">-8.84</text>
<path d="M605.70,169.65L596.40,174.10L605.70,178.55" fill="none" stroke="#000" stroke-width="1.45"/>
<text x="608.80" y="179.60" font-size="17.8" letter-spacing="0.28">log[sSFR]</text>
<path d="M702.10,169.65L692.80,174.10L702.10,178.55" fill="none" stroke="#000" stroke-width="1.45"/>
<text x="704.10" y="179.60" font-size="17.8">-8.00)</text>
<text x="297.83" y="387.80" font-size="17.8">Fitzpatrick</text>
<text x="384.05" y="387.80" font-size="17.8">99</text>
<text x="410.39" y="387.80" font-size="17.8">(MW)</text>
<text x="298.41" y="413.40" font-size="17.8">Calzetti</text>
<path d="M359.65,408.00h10.7M365.00,402.65v10.7" fill="none" stroke="#000" stroke-width="1.4"/>
<text x="372.49" y="413.40" font-size="17.8">00</text>
<text x="398.19" y="413.40" font-size="17.8">(SB;</text>
<text x="437.09" y="413.40" font-size="17.8">z</text>
<path d="M448.10,406.70h11M448.10,409.90h11" fill="none" stroke="#000" stroke-width="1.4"/>
<text x="460.69" y="413.40" font-size="17.8">0)</text>
<text x="298.73" y="438.90" font-size="17.8">fQ</text>
<text x="317.53" y="444.70" font-size="11.0">fit</text>
<text x="330.79" y="438.90" font-size="17.8">(z</text>
<path transform="translate(345.60,434.10)" d="M0,1.0C1.4,-1.1 3.0,-1.9 4.7,-1.5C6.8,-1.0 7.4,1.4 9.5,1.6C11.1,1.7 12.2,0.4 13,-1.0" fill="none" stroke="#000" stroke-width="1.45"/>
<text x="358.89" y="438.90" font-size="17.8">0;</text>
<text x="377.56" y="438.90" font-size="17.8">1.1</text>
<path d="M416.00,428.95L406.70,433.40L416.00,437.85" fill="none" stroke="#000" stroke-width="1.45"/>
<text x="418.13" y="438.90" font-size="17.8">D</text>
<text x="431.36" y="444.70" font-size="11.0">n</text>
<text x="438.00" y="438.90" font-size="17.8">4000</text>
<path d="M490.00,428.95L480.70,433.40L490.00,437.85" fill="none" stroke="#000" stroke-width="1.45"/>
<text x="492.67" y="438.90" font-size="17.8">1.3)</text>
</g>
</svg>
</body></html>
